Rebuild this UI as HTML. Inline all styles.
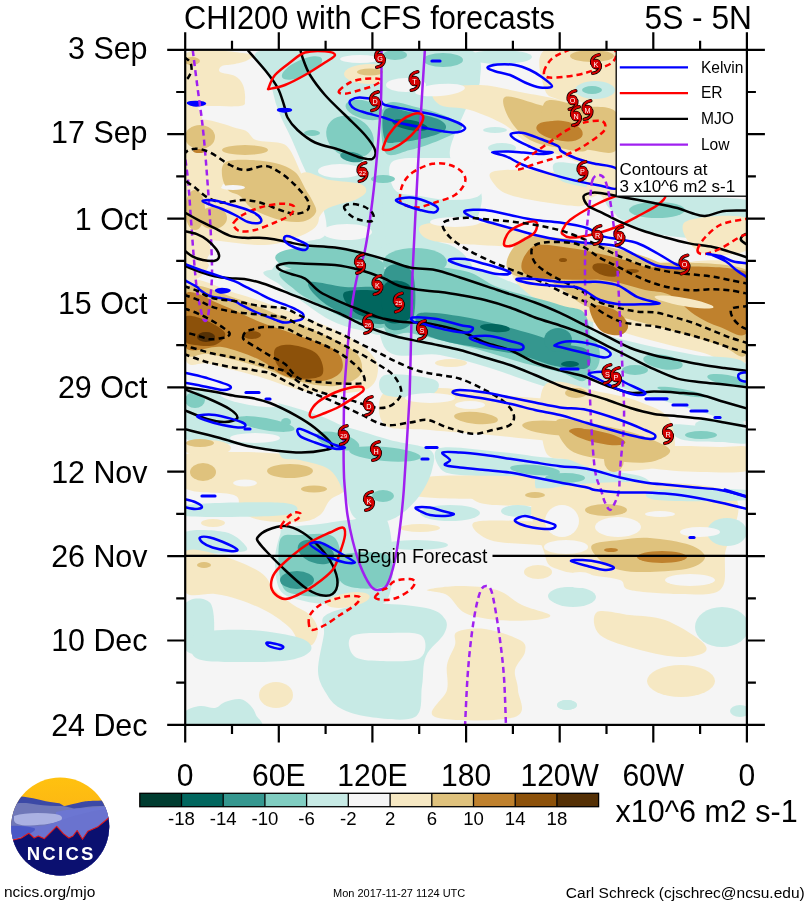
<!DOCTYPE html><html><head><meta charset="utf-8"><title>CHI200 with CFS forecasts</title><style>html,body{margin:0;padding:0;background:#fff;}svg{display:block;}text{font-family:"Liberation Sans",Arial,Helvetica,sans-serif;}</style></head><body>
<svg width="809" height="907" viewBox="0 0 809 907">
<defs><clipPath id="pc"><rect x="185.2" y="49.8" width="561.7" height="675.1"/></clipPath>
<linearGradient id="sun" x1="0" y1="0" x2="0" y2="1"><stop offset="0" stop-color="#ffc20f"/><stop offset="0.3" stop-color="#fdb813"/><stop offset="1" stop-color="#f2a000"/></linearGradient>
<clipPath id="lc"><circle cx="60.2" cy="826.5" r="49"/></clipPath></defs>
<g clip-path="url(#pc)">
<rect x="185.2" y="49.8" width="561.7" height="675.1" fill="#f5f5f5"/>
<path d="M185,54 C195.8,45 239.5,53 250,54 C260.5,55 250.5,58.3 248,60 C245.5,61.7 239.3,63 235,64 C230.7,65 224.5,64.7 222,66 C219.5,67.3 217.8,70.3 220,72 C222.2,73.7 231.2,73.8 235,76 C238.8,78.2 241.3,81 243,85 C244.7,89 245.5,96.5 245,100 C244.5,103.5 246.7,105 240,106 C233.3,107 214.2,105.7 205,106 C195.8,106.3 188.3,116.7 185,108 C181.7,99.3 174.2,63 185,54Z" fill="#f6e8c3"/>
<ellipse cx="192" cy="118" rx="10" ry="12" fill="#f6e8c3"/>
<path d="M185,128 C194.2,109.5 228.2,127 240,129 C251.8,131 249.3,137.7 256,140 C262.7,142.3 274.3,141.3 280,143 C285.7,144.7 286.3,144.7 290,150 C293.7,155.3 297.8,166.7 302,175 C306.2,183.3 312.5,191.7 315,200 C317.5,208.3 321.2,218.3 317,225 C312.8,231.7 299.5,236.7 290,240 C280.5,243.3 273.3,245 260,245 C246.7,245 222.5,240.8 210,240 C197.5,239.2 189.2,258.7 185,240 C180.8,221.3 175.8,146.5 185,128Z" fill="#f6e8c3"/>
<path d="M185,240 C188.7,233.8 202.8,236.3 207,240 C211.2,243.7 211.2,255.8 210,262 C208.8,268.2 204.2,274.5 200,277 C195.8,279.5 187.5,283.2 185,277 C182.5,270.8 181.3,246.2 185,240Z" fill="#f6e8c3"/>
<path d="M262,50 C281.5,45 366.2,12.2 387,50 C407.8,87.8 405.7,239.2 387,277 C368.3,314.8 289.5,282.3 275,277 C260.5,271.7 291.7,252 300,245 C308.3,238 321.3,241.7 325,235 C328.7,228.3 325.3,215.8 322,205 C318.7,194.2 310,180.8 305,170 C300,159.2 296.5,150 292,140 C287.5,130 281.7,120 278,110 C274.3,100 272.7,90 270,80 C267.3,70 242.5,55 262,50Z" fill="#c7eae5"/>
<path d="M300,175 C305,167 320,178.5 330,180 C340,181.5 354,182 360,184 C366,186 366.8,189.3 366,192 C365.2,194.7 359.3,198 355,200 C350.7,202 345,202.3 340,204 C335,205.7 329.2,207 325,210 C320.8,213 319.2,219 315,222 C310.8,225 302.5,235.8 300,228 C297.5,220.2 295,183 300,175Z" fill="#f6e8c3"/>
<ellipse cx="370" cy="74" rx="26" ry="10" fill="#f6e8c3"/>
<path d="M387,50 C400.8,17.5 454.5,45 470,50 C485.5,55 480,71.7 480,80 C480,88.3 475,88.3 470,100 C465,111.7 451.7,138.3 450,150 C448.3,161.7 455,163.3 460,170 C465,176.7 476.7,183.3 480,190 C483.3,196.7 481.7,203.3 480,210 C478.3,216.7 475,225 470,230 C465,235 458.3,237.5 450,240 C441.7,242.5 430.5,244.2 420,245 C409.5,245.8 392.5,277.5 387,245 C381.5,212.5 373.2,82.5 387,50Z" fill="#c7eae5"/>
<ellipse cx="500" cy="57" rx="32" ry="7" fill="#c7eae5"/>
<path d="M435,90 C441.7,86.7 465.8,84.7 480,85 C494.2,85.3 506.7,89.5 520,92 C533.3,94.5 548.8,97 560,100 C571.2,103 582.5,100 587,110 C591.5,120 591.5,152.5 587,160 C582.5,167.5 569.5,157.5 560,155 C550.5,152.5 539.2,150 530,145 C520.8,140 515,130.8 505,125 C495,119.2 480.8,113.3 470,110 C459.2,106.7 445.8,108.3 440,105 C434.2,101.7 428.3,93.3 435,90Z" fill="#f6e8c3"/>
<path d="M492,172 C497.8,169.5 517,169.5 530,170 C543,170.5 560.5,172.5 570,175 C579.5,177.5 584.5,180 587,185 C589.5,190 591.2,202 585,205 C578.8,208 562.5,204.7 550,203 C537.5,201.3 519.2,198 510,195 C500.8,192 498,188.8 495,185 C492,181.2 486.2,174.5 492,172Z" fill="#f6e8c3"/>
<ellipse cx="441" cy="181" rx="16" ry="4" fill="#f6e8c3"/>
<path d="M555,163 C560,160.7 579.8,164.8 590,166 C600.2,167.2 611.7,165.7 616,170 C620.3,174.3 620.3,189 616,192 C611.7,195 599.3,190 590,188 C580.7,186 565.8,184.2 560,180 C554.2,175.8 550,165.3 555,163Z" fill="#c7eae5"/>
<ellipse cx="495" cy="130" rx="12" ry="3" fill="#c7eae5"/>
<ellipse cx="502" cy="148" rx="14" ry="5" fill="#c7eae5"/>
<path d="M422,225 C428.7,222 453.7,221.2 470,222 C486.3,222.8 510.8,226.2 520,230 C529.2,233.8 531.7,242.5 525,245 C518.3,247.5 495.8,245.8 480,245 C464.2,244.2 439.7,243.3 430,240 C420.3,236.7 415.3,228 422,225Z" fill="#f6e8c3"/>
<path d="M385,245 C395.8,239.7 435.8,239.7 450,245 C464.2,250.3 480.8,271.7 470,277 C459.2,282.3 399.2,282.3 385,277 C370.8,271.7 374.2,250.3 385,245Z" fill="#c7eae5"/>
<path d="M545,50 C556.8,43.3 604.2,25 616,50 C627.8,75 618.7,175.8 616,200 C613.3,224.2 604.8,196.7 600,195 C595.2,193.3 589.2,204.2 587,190 C584.8,175.8 591.5,125 587,110 C582.5,95 567,103.3 560,100 C553,96.7 547.5,98.3 545,90 C542.5,81.7 533.2,56.7 545,50Z" fill="#f6e8c3"/>
<ellipse cx="595" cy="90" rx="20" ry="9" fill="#c7eae5"/>
<path d="M616,197 C637.8,194.5 725.2,195.8 747,200 C768.8,204.2 754.8,217.8 747,222 C739.2,226.2 714.5,224.5 700,225 C685.5,225.5 671.7,225.5 660,225 C648.3,224.5 637.3,223.7 630,222 C622.7,220.3 618.3,219.2 616,215 C613.7,210.8 594.2,199.5 616,197Z" fill="#c7eae5"/>
<ellipse cx="670" cy="228" rx="45" ry="8" fill="#c7eae5" transform="rotate(8 670 228)"/>
<path d="M685,222 C692.8,216.3 736.7,213.3 747,218 C757.3,222.7 754.8,244.3 747,250 C739.2,255.7 710.3,256.7 700,252 C689.7,247.3 677.2,227.7 685,222Z" fill="#f6e8c3"/>
<path d="M690,262 C699.5,259.5 737.5,259.5 747,262 C756.5,264.5 756.5,274.5 747,277 C737.5,279.5 699.5,279.5 690,277 C680.5,274.5 680.5,264.5 690,262Z" fill="#f6e8c3"/>
<path d="M270,270 C287.8,267.5 367.5,260 387,270 C406.5,280 391.5,320 387,330 C382.5,340 369.5,331.7 360,330 C350.5,328.3 340,325 330,320 C320,315 308.3,305.8 300,300 C291.7,294.2 285,290 280,285 C275,280 252.2,272.5 270,270Z" fill="#c7eae5"/>
<path d="M185,283 C193.3,272.2 218.3,288.5 235,293 C251.7,297.5 268.3,303.8 285,310 C301.7,316.2 321.7,323.7 335,330 C348.3,336.3 357.8,341.7 365,348 C372.2,354.3 378,361 378,368 C378,375 376.3,386 365,390 C353.7,394 327.5,394.2 310,392 C292.5,389.8 276.7,381.7 260,377 C243.3,372.3 222.5,367.2 210,364 C197.5,360.8 189.2,371.5 185,358 C180.8,344.5 176.7,293.8 185,283Z" fill="#f6e8c3"/>
<path d="M185,392 C194.2,384.8 223.3,392.8 240,395 C256.7,397.2 270,400.8 285,405 C300,409.2 317.2,414.2 330,420 C342.8,425.8 356.7,434.2 362,440 C367.3,445.8 372.3,452.5 362,455 C351.7,457.5 320.3,456.7 300,455 C279.7,453.3 259.2,447.8 240,445 C220.8,442.2 194.2,446.8 185,438 C175.8,429.2 175.8,399.2 185,392Z" fill="#c7eae5"/>
<path d="M185,455 C194.2,449 220.8,452 240,452 C259.2,452 283.3,454 300,455 C316.7,456 331.7,455.5 340,458 C348.3,460.5 349.2,464.7 350,470 C350.8,475.3 348.3,485 345,490 C341.7,495 334.2,495.8 330,500 C325.8,504.2 325,511.3 320,515 C315,518.7 310,521.2 300,522 C290,522.8 270,522 260,520 C250,518 244.3,514.2 240,510 C235.7,505.8 243.2,498.7 234,495 C224.8,491.3 193.2,494.7 185,488 C176.8,481.3 175.8,461 185,455Z" fill="#f6e8c3"/>
<ellipse cx="207" cy="448" rx="24" ry="8" fill="#f6e8c3"/>
<path d="M385,268 C399.2,254.7 447.5,265.2 470,268 C492.5,270.8 500.5,279.7 520,285 C539.5,290.3 575.8,281.7 587,300 C598.2,318.3 594.8,380.8 587,395 C579.2,409.2 556.2,389.5 540,385 C523.8,380.5 506.7,373 490,368 C473.3,363 457.5,358.3 440,355 C422.5,351.7 394.2,362.5 385,348 C375.8,333.5 370.8,281.3 385,268Z" fill="#c7eae5"/>
<path d="M515,270 C524.5,265.5 575,261 587,268 C599,275 591.5,305.8 587,312 C582.5,318.2 569.5,307.8 560,305 C550.5,302.2 537.5,300.8 530,295 C522.5,289.2 505.5,274.5 515,270Z" fill="#f6e8c3"/>
<ellipse cx="451" cy="363" rx="16" ry="4" fill="#f6e8c3"/>
<path d="M385,392 C394.2,385.8 420.8,387.5 440,388 C459.2,388.5 480,393 500,395 C520,397 545.5,398.3 560,400 C574.5,401.7 582.5,398 587,405 C591.5,412 594.8,436.2 587,442 C579.2,447.8 556.2,441.2 540,440 C523.8,438.8 508.3,436.7 490,435 C471.7,433.3 447.5,431.7 430,430 C412.5,428.3 392.5,431.3 385,425 C377.5,418.7 375.8,398.2 385,392Z" fill="#f6e8c3"/>
<path d="M385,375 C393.3,372.5 427.5,376.7 435,380 C442.5,383.3 438.3,392.5 430,395 C421.7,397.5 392.5,398.3 385,395 C377.5,391.7 376.7,377.5 385,375Z" fill="#c7eae5"/>
<path d="M440,448 C450,445.3 483.3,450.5 500,452 C516.7,453.5 525.5,455.3 540,457 C554.5,458.7 579.2,458.5 587,462 C594.8,465.5 598.2,475.5 587,478 C575.8,480.5 541.2,477.5 520,477 C498.8,476.5 473.3,476.5 460,475 C446.7,473.5 443.3,472.5 440,468 C436.7,463.5 430,450.7 440,448Z" fill="#c7eae5"/>
<path d="M422,478 C435,474.5 472.5,475.7 500,476 C527.5,476.3 572.5,476.5 587,480 C601.5,483.5 614.5,494.2 587,497 C559.5,499.8 449.5,500.2 422,497 C394.5,493.8 409,481.5 422,478Z" fill="#f6e8c3"/>
<path d="M545,270 C578.7,264.2 713.3,255 747,270 C780.7,285 754.8,346.3 747,360 C739.2,373.7 716.2,355.3 700,352 C683.8,348.7 666.7,344.5 650,340 C633.3,335.5 613.3,329.7 600,325 C586.7,320.3 579.2,315.3 570,312 C560.8,308.7 549.2,312 545,305 C540.8,298 511.3,275.8 545,270Z" fill="#f6e8c3"/>
<path d="M545,315 C553.3,308.7 578.3,327 595,332 C611.7,337 628.3,341.2 645,345 C661.7,348.8 678,351.7 695,355 C712,358.3 738.3,354.2 747,365 C755.7,375.8 755.7,412.5 747,420 C738.3,427.5 712,414.2 695,410 C678,405.8 661.7,400 645,395 C628.3,390 611.7,384.2 595,380 C578.3,375.8 553.3,380.8 545,370 C536.7,359.2 536.7,321.3 545,315Z" fill="#c7eae5"/>
<path d="M672,425 C676.2,423.3 690.3,425.5 700,426 C709.7,426.5 721.7,427.3 730,428 C738.3,428.7 746.7,427.5 750,430 C753.3,432.5 755,441 750,443 C745,445 730,442.3 720,442 C710,441.7 697.5,442 690,441 C682.5,440 678,438.7 675,436 C672,433.3 667.8,426.7 672,425Z" fill="#c7eae5"/>
<path d="M632,447 C640.3,444.7 665.3,446 680,446 C694.7,446 708.3,446.7 720,447 C731.7,447.3 745,444.2 750,448 C755,451.8 758.3,466 750,470 C741.7,474 716.7,472.3 700,472 C683.3,471.7 661.7,470 650,468 C638.3,466 633,463.5 630,460 C627,456.5 623.7,449.3 632,447Z" fill="#f6e8c3"/>
<path d="M545,385 C554.2,375.3 584.2,389.2 600,392 C615.8,394.8 628.3,397.3 640,402 C651.7,406.7 664.7,410.3 670,420 C675.3,429.7 677,451.7 672,460 C667,468.3 652,468.3 640,470 C628,471.7 611.7,471.7 600,470 C588.3,468.3 579.2,463.3 570,460 C560.8,456.7 549.2,462.5 545,450 C540.8,437.5 535.8,394.7 545,385Z" fill="#f6e8c3"/>
<path d="M545,463 C554.2,458.5 583.3,467.5 600,470 C616.7,472.5 637.2,473.5 645,478 C652.8,482.5 663.7,493.8 647,497 C630.3,500.2 562,502.7 545,497 C528,491.3 535.8,467.5 545,463Z" fill="#c7eae5"/>
<ellipse cx="720" cy="425" rx="25" ry="7" fill="#c7eae5"/>
<ellipse cx="213" cy="523" rx="12" ry="4" fill="#f6e8c3"/>
<path d="M185,505 C201.7,502.8 268.3,501.3 285,503 C301.7,504.7 301.7,512.8 285,515 C268.3,517.2 201.7,517.7 185,516 C168.3,514.3 168.3,507.2 185,505Z" fill="#c7eae5"/>
<path d="M185,532 C191.7,528.7 215,529.8 225,532 C235,534.2 242.5,541.7 245,545 C247.5,548.3 250,550.8 240,552 C230,553.2 194.2,555.3 185,552 C175.8,548.7 178.3,535.3 185,532Z" fill="#c7eae5"/>
<path d="M285,528 C291.7,526.2 309.2,525.3 320,524 C330.8,522.7 338.8,520.7 350,520 C361.2,519.3 380.8,506.7 387,520 C393.2,533.3 396.5,586 387,600 C377.5,614 344.5,604 330,604 C315.5,604 308.3,602.3 300,600 C291.7,597.7 284.2,596.7 280,590 C275.8,583.3 275,569.2 275,560 C275,550.8 278.3,540.3 280,535 C281.7,529.7 278.3,529.8 285,528Z" fill="#c7eae5"/>
<path d="M185,552 C191.2,546 209.5,552.7 222,556 C234.5,559.3 251.2,566.3 260,572 C268.8,577.7 269.7,584.7 275,590 C280.3,595.3 286.2,599.8 292,604 C297.8,608.2 305.7,610.7 310,615 C314.3,619.3 317.7,625 318,630 C318.3,635 315,642.8 312,645 C309,647.2 303.7,645.8 300,643 C296.3,640.2 295.3,633.2 290,628 C284.7,622.8 276.3,616.7 268,612 C259.7,607.3 248.8,603 240,600 C231.2,597 224.2,595.3 215,594 C205.8,592.7 190,599 185,592 C180,585 178.8,558 185,552Z" fill="#f6e8c3"/>
<ellipse cx="348" cy="600" rx="22" ry="7" fill="#f6e8c3" transform="rotate(-10 348 600)"/>
<path d="M185,604 C189.3,596.5 206.7,596.5 211,604 C215.3,611.5 215.3,641.5 211,649 C206.7,656.5 189.3,656.5 185,649 C180.7,641.5 180.7,611.5 185,604Z" fill="#c7eae5"/>
<path d="M196,634 C205,629.3 232.7,629.3 250,630 C267.3,630.7 289.8,634.7 300,638 C310.2,641.3 312.7,646.3 311,650 C309.3,653.7 301.8,658 290,660 C278.2,662 255.7,662.3 240,662 C224.3,661.7 203.3,662.7 196,658 C188.7,653.3 187,638.7 196,634Z" fill="#c7eae5"/>
<path d="M326,615 C333.7,610 353.3,605.2 370,604 C386.7,602.8 413.5,605.5 426,608 C438.5,610.5 442,614.7 445,619 C448,623.3 447.2,627.8 444,634 C440.8,640.2 429.7,647.3 426,656 C422.3,664.7 423.8,675.8 422,686 C420.2,696.2 423.7,711.8 415,717 C406.3,722.2 382.5,718.5 370,717 C357.5,715.5 347.3,712 340,708 C332.7,704 329.7,699.2 326,693 C322.3,686.8 318.3,680.8 318,671 C317.7,661.2 322.7,643.3 324,634 C325.3,624.7 318.3,620 326,615Z" fill="#c7eae5"/>
<ellipse cx="276" cy="695" rx="17" ry="13" fill="#f6e8c3"/>
<path d="M185,712 C187.5,708.5 195,706.7 200,706 C205,705.3 210.8,708.7 215,708 C219.2,707.3 220.8,703.5 225,702 C229.2,700.5 235.8,698.5 240,699 C244.2,699.5 247.3,702.3 250,705 C252.7,707.7 254.8,711.3 256,715 C257.2,718.7 268.8,725 257,727 C245.2,729 197,729.5 185,727 C173,724.5 182.5,715.5 185,712Z" fill="#c7eae5"/>
<path d="M280,418 C286.7,412.2 308.3,418.3 320,420 C331.7,421.7 338.3,424.7 350,428 C361.7,431.3 376.7,436.3 390,440 C403.3,443.7 423,445 430,450 C437,455 433.7,462.5 432,470 C430.3,477.5 425.3,487.5 420,495 C414.7,502.5 406.7,510.5 400,515 C393.3,519.5 387.5,521.5 380,522 C372.5,522.5 360.8,522.5 355,518 C349.2,513.5 349.2,503 345,495 C340.8,487 337.5,475.8 330,470 C322.5,464.2 308.3,462.5 300,460 C291.7,457.5 283.3,462 280,455 C276.7,448 273.3,423.8 280,418Z" fill="#c7eae5"/>
<path d="M480,490 C497.8,487.8 569.2,487.5 587,490 C604.8,492.5 596.5,502.3 587,505 C577.5,507.7 547.8,506.3 530,506 C512.2,505.7 488.3,505.7 480,503 C471.7,500.3 462.2,492.2 480,490Z" fill="#f6e8c3"/>
<path d="M475,522 C483.3,519 521.3,521 540,522 C558.7,523 579.2,523.7 587,528 C594.8,532.3 594.8,545.2 587,548 C579.2,550.8 556.2,546.3 540,545 C523.8,543.7 500.8,543.8 490,540 C479.2,536.2 466.7,525 475,522Z" fill="#f6e8c3"/>
<ellipse cx="538" cy="572" rx="14" ry="7" fill="#f6e8c3"/>
<ellipse cx="420" cy="528" rx="20" ry="4" fill="#f6e8c3"/>
<ellipse cx="450" cy="513" rx="30" ry="8" fill="#c7eae5"/>
<ellipse cx="518" cy="511" rx="17" ry="6" fill="#c7eae5"/>
<ellipse cx="416" cy="545" rx="32" ry="5" fill="#c7eae5"/>
<ellipse cx="568" cy="596" rx="20" ry="9" fill="#c7eae5"/>
<path d="M427,590 C429.2,588.5 448.3,586 460,586 C471.7,586 486.7,586.8 497,590 C507.3,593.2 513.2,600.8 522,605 C530.8,609.2 547.8,612.5 550,615 C552.2,617.5 543.8,619.2 535,620 C526.2,620.8 508.7,621.2 497,620 C485.3,618.8 473.3,617.2 465,613 C456.7,608.8 453.3,598.8 447,595 C440.7,591.2 424.8,591.5 427,590Z" fill="#f6e8c3"/>
<path d="M457,632 C462,629.3 474.5,627.7 485,629 C495.5,630.3 513.3,636.2 520,640 C526.7,643.8 525.8,647 525,652 C524.2,657 516.2,663.7 515,670 C513.8,676.3 518,682.2 518,690 C518,697.8 528.8,712.5 515,717 C501.2,721.5 446.3,721.5 435,717 C423.7,712.5 445,698.7 447,690 C449,681.3 445.7,672.5 447,665 C448.3,657.5 453.3,650.5 455,645 C456.7,639.5 452,634.7 457,632Z" fill="#f6e8c3"/>
<ellipse cx="567" cy="705" rx="10" ry="5" fill="#c7eae5"/>
<path d="M545,490 C575,479.2 695,479.2 725,490 C755,500.8 725.8,538.3 725,555 C724.2,571.7 727.5,583.5 720,590 C712.5,596.5 695,594 680,594 C665,594 640,592.3 630,590 C620,587.7 626.7,582.5 620,580 C613.3,577.5 600,576.7 590,575 C580,573.3 567.5,573.3 560,570 C552.5,566.7 547.5,568.3 545,555 C542.5,541.7 515,500.8 545,490Z" fill="#f6e8c3"/>
<path d="M597,612 C602,608.7 618.7,613.7 630,615 C641.3,616.3 653.3,615.8 665,620 C676.7,624.2 693.3,634.7 700,640 C706.7,645.3 708.3,649.2 705,652 C701.7,654.8 690.8,657.3 680,657 C669.2,656.7 653.3,653.7 640,650 C626.7,646.3 607.2,641.3 600,635 C592.8,628.7 592,615.3 597,612Z" fill="#f6e8c3"/>
<ellipse cx="681" cy="681" rx="34" ry="16" fill="#f6e8c3"/>
<path d="M657,490 C672,488.3 732,488.3 747,490 C762,491.7 762,498.3 747,500 C732,501.7 672,501.7 657,500 C642,498.3 642,491.7 657,490Z" fill="#c7eae5"/>
<ellipse cx="727" cy="532" rx="20" ry="14" fill="#c7eae5"/>
<ellipse cx="573" cy="597" rx="23" ry="10" fill="#c7eae5"/>
<ellipse cx="722" cy="627" rx="27" ry="20" fill="#c7eae5"/>
<ellipse cx="567" cy="705" rx="10" ry="5" fill="#c7eae5"/>
<ellipse cx="740" cy="711" rx="10" ry="6" fill="#c7eae5"/>
<ellipse cx="232" cy="186" rx="10" ry="4" fill="#f5f5f5"/>
<ellipse cx="237" cy="260" rx="30" ry="14" fill="#f5f5f5"/>
<ellipse cx="340" cy="171" rx="22" ry="7" fill="#f5f5f5"/>
<ellipse cx="347" cy="232" rx="25" ry="8" fill="#f5f5f5"/>
<ellipse cx="360" cy="59" rx="20" ry="4" fill="#f5f5f5"/>
<ellipse cx="406" cy="85" rx="20" ry="7" fill="#f5f5f5"/>
<ellipse cx="440" cy="90" rx="25" ry="6" fill="#f5f5f5" transform="rotate(-5 440 90)"/>
<path d="M392,162 C397.8,156.7 417,158.3 430,158 C443,157.7 460.8,158 470,160 C479.2,162 483.3,164.2 485,170 C486.7,175.8 485.8,190 480,195 C474.2,200 460,199.8 450,200 C440,200.2 429.2,197.7 420,196 C410.8,194.3 399.7,195.7 395,190 C390.3,184.3 386.2,167.3 392,162Z" fill="#f5f5f5"/>
<ellipse cx="455" cy="222" rx="25" ry="5" fill="#f5f5f5"/>
<ellipse cx="250" cy="400" rx="30" ry="5" fill="#f5f5f5" transform="rotate(10 250 400)"/>
<ellipse cx="255" cy="438" rx="25" ry="5" fill="#f5f5f5"/>
<ellipse cx="245" cy="483" rx="12" ry="3.5" fill="#f5f5f5"/>
<ellipse cx="430" cy="398" rx="25" ry="5" fill="#f5f5f5"/>
<ellipse cx="470" cy="405" rx="15" ry="4" fill="#f5f5f5"/>
<path d="M352,636 C358,632.2 378.3,633 390,633 C401.7,633 417,631.8 422,636 C427,640.2 427,653.8 420,658 C413,662.2 391,661.3 380,661 C369,660.7 358.7,660.2 354,656 C349.3,651.8 346,639.8 352,636Z" fill="#f5f5f5"/>
<ellipse cx="562" cy="521" rx="17" ry="16" fill="#f5f5f5"/>
<ellipse cx="618" cy="527" rx="23" ry="10" fill="#f5f5f5"/>
<ellipse cx="660" cy="514" rx="15" ry="3" fill="#f5f5f5"/>
<ellipse cx="566" cy="547" rx="22" ry="7" fill="#f5f5f5"/>
<ellipse cx="700" cy="532" rx="20" ry="5" fill="#f5f5f5"/>
<ellipse cx="580" cy="580" rx="15" ry="8" fill="#f5f5f5"/>
<ellipse cx="690" cy="580" rx="25" ry="6" fill="#f5f5f5"/>
<ellipse cx="383" cy="179" rx="12" ry="4" fill="#80cdc1"/>
<ellipse cx="370" cy="72" rx="13" ry="3.5" fill="#dfc27d"/>
<ellipse cx="200" cy="137" rx="15" ry="12" fill="#dfc27d"/>
<ellipse cx="245" cy="150" rx="23" ry="5" fill="#dfc27d"/>
<path d="M226,162 C230.7,159.5 241.8,159.8 250,160 C258.2,160.2 267.5,161 275,163 C282.5,165 289.8,167.5 295,172 C300.2,176.5 303.2,185.3 306,190 C308.8,194.7 310.3,196.3 312,200 C313.7,203.7 317.2,208.5 316,212 C314.8,215.5 310.2,219.5 305,221 C299.8,222.5 291.7,222 285,221 C278.3,220 270.8,217.3 265,215 C259.2,212.7 254.2,210.2 250,207 C245.8,203.8 243.7,198.8 240,196 C236.3,193.2 231,193.5 228,190 C225,186.5 222.3,179.7 222,175 C221.7,170.3 221.3,164.5 226,162Z" fill="#dfc27d"/>
<ellipse cx="213" cy="218" rx="14" ry="11" fill="#dfc27d"/>
<ellipse cx="195" cy="210" rx="10" ry="20" fill="#dfc27d"/>
<ellipse cx="192" cy="61" rx="8" ry="4" fill="#dfc27d"/>
<ellipse cx="302" cy="68" rx="22" ry="8" fill="#80cdc1" transform="rotate(-25 302 68)"/>
<ellipse cx="350" cy="137" rx="25" ry="20" fill="#80cdc1" transform="rotate(30 350 137)"/>
<ellipse cx="365" cy="110" rx="20" ry="9" fill="#80cdc1" transform="rotate(15 365 110)"/>
<ellipse cx="312" cy="133" rx="8" ry="3" fill="#80cdc1"/>
<ellipse cx="330" cy="262" rx="55" ry="14" fill="#80cdc1" transform="rotate(5 330 262)"/>
<ellipse cx="443" cy="60" rx="20" ry="7" fill="#80cdc1"/>
<ellipse cx="395" cy="55" rx="12" ry="5" fill="#80cdc1"/>
<path d="M385,105 C390.8,97.7 409.2,105.8 420,108 C430.8,110.2 443,114.7 450,118 C457,121.3 463.7,124.3 462,128 C460.3,131.7 448.7,136.3 440,140 C431.3,143.7 419.2,148 410,150 C400.8,152 389.2,159.5 385,152 C380.8,144.5 379.2,112.3 385,105Z" fill="#80cdc1"/>
<path d="M505,97 C510,94.5 528.3,102 540,105 C551.7,108 567.2,111.7 575,115 C582.8,118.3 585,119.2 587,125 C589,130.8 591.5,146.2 587,150 C582.5,153.8 569.5,149.7 560,148 C550.5,146.3 538.3,144.7 530,140 C521.7,135.3 514.2,127.2 510,120 C505.8,112.8 500,99.5 505,97Z" fill="#dfc27d"/>
<ellipse cx="415" cy="262" rx="32" ry="14" fill="#80cdc1"/>
<ellipse cx="592" cy="56" rx="22" ry="6" fill="#dfc27d"/>
<ellipse cx="592" cy="90" rx="10" ry="4" fill="#80cdc1"/>
<path d="M545,102 C550.8,96.3 568.2,104.3 580,106 C591.8,107.7 610,104.7 616,112 C622,119.3 620.3,143.7 616,150 C611.7,156.3 599.3,150.8 590,150 C580.7,149.2 567.5,146.7 560,145 C552.5,143.3 547.5,147.2 545,140 C542.5,132.8 539.2,107.7 545,102Z" fill="#dfc27d"/>
<ellipse cx="657" cy="210" rx="28" ry="8" fill="#80cdc1"/>
<path d="M520,240 C526.7,233.5 546.7,237.2 560,238 C573.3,238.8 586.7,242.2 600,245 C613.3,247.8 628.3,251.2 640,255 C651.7,258.8 663.3,264.3 670,268 C676.7,271.7 705,275.5 680,277 C655,278.5 546.7,283.2 520,277 C493.3,270.8 513.3,246.5 520,240Z" fill="#dfc27d"/>
<path d="M285,270 C300.3,266.7 370,260.8 387,270 C404,279.2 393.2,316.7 387,325 C380.8,333.3 361.2,323.3 350,320 C338.8,316.7 329.2,310 320,305 C310.8,300 300.8,295.8 295,290 C289.2,284.2 269.7,273.3 285,270Z" fill="#80cdc1"/>
<path d="M185,288 C193.3,279 218.3,293 235,298 C251.7,303 268.3,311 285,318 C301.7,325 322.8,333.8 335,340 C347.2,346.2 353.8,349.2 358,355 C362.2,360.8 363.8,369.8 360,375 C356.2,380.2 345.5,385 335,386 C324.5,387 309.5,384.2 297,381 C284.5,377.8 274.5,371.5 260,367 C245.5,362.5 222.5,356.5 210,354 C197.5,351.5 189.2,363 185,352 C180.8,341 176.7,297 185,288Z" fill="#dfc27d"/>
<ellipse cx="265" cy="424" rx="30" ry="6" fill="#80cdc1" transform="rotate(10 265 424)"/>
<ellipse cx="195" cy="400" rx="10" ry="8" fill="#80cdc1"/>
<ellipse cx="338" cy="441" rx="22" ry="8" fill="#80cdc1" transform="rotate(15 338 441)"/>
<ellipse cx="203" cy="472" rx="13" ry="9" fill="#dfc27d"/>
<ellipse cx="290" cy="471" rx="23" ry="7" fill="#dfc27d"/>
<ellipse cx="314" cy="489" rx="13" ry="3.5" fill="#dfc27d"/>
<ellipse cx="200" cy="443" rx="14" ry="4" fill="#dfc27d"/>
<path d="M385,270 C397.5,260 440.8,267 460,270 C479.2,273 483.3,282.2 500,288 C516.7,293.8 545.5,300 560,305 C574.5,310 582.5,305.8 587,318 C591.5,330.2 591.5,369 587,378 C582.5,387 571.2,374.7 560,372 C548.8,369.3 533.3,365.7 520,362 C506.7,358.3 493.3,353.7 480,350 C466.7,346.3 451.7,342.8 440,340 C428.3,337.2 419.2,334.7 410,333 C400.8,331.3 389.2,340.5 385,330 C380.8,319.5 372.5,280 385,270Z" fill="#80cdc1"/>
<ellipse cx="566" cy="275" rx="22" ry="6" fill="#dfc27d" transform="rotate(10 566 275)"/>
<ellipse cx="476" cy="418" rx="22" ry="6" fill="#dfc27d" transform="rotate(5 476 418)"/>
<ellipse cx="555" cy="428" rx="33" ry="7" fill="#dfc27d" transform="rotate(5 555 428)"/>
<ellipse cx="576" cy="393" rx="11" ry="5" fill="#dfc27d"/>
<ellipse cx="535" cy="470" rx="25" ry="5" fill="#80cdc1" transform="rotate(5 535 470)"/>
<path d="M560,270 C589.5,265.8 715.8,256.3 747,270 C778.2,283.7 751.5,339.5 747,352 C742.5,364.5 732.8,348.7 720,345 C707.2,341.3 684.7,334.2 670,330 C655.3,325.8 644.5,323.3 632,320 C619.5,316.7 605.3,314.2 595,310 C584.7,305.8 575.8,301.7 570,295 C564.2,288.3 530.5,274.2 560,270Z" fill="#dfc27d"/>
<ellipse cx="684" cy="303" rx="42" ry="9" fill="#dfc27d" transform="rotate(10 684 303)"/>
<path d="M545,320 C550,313.3 566.2,320.8 575,325 C583.8,329.2 594.7,337.5 598,345 C601.3,352.5 600.5,366.2 595,370 C589.5,373.8 573.3,368.8 565,368 C556.7,367.2 548.3,373 545,365 C541.7,357 540,326.7 545,320Z" fill="#80cdc1"/>
<ellipse cx="663" cy="362" rx="20" ry="7" fill="#80cdc1" transform="rotate(10 663 362)"/>
<ellipse cx="635" cy="370" rx="13" ry="5" fill="#80cdc1"/>
<ellipse cx="727" cy="380" rx="20" ry="5" fill="#80cdc1" transform="rotate(10 727 380)"/>
<ellipse cx="682" cy="392" rx="25" ry="3" fill="#80cdc1" transform="rotate(10 682 392)"/>
<ellipse cx="701" cy="435" rx="16" ry="4" fill="#80cdc1"/>
<path d="M557,420 C562,415.8 586.2,422.5 600,425 C613.8,427.5 628.3,430.8 640,435 C651.7,439.2 668.3,445.5 670,450 C671.7,454.5 660,460.3 650,462 C640,463.7 623.3,462 610,460 C596.7,458 578.8,456.7 570,450 C561.2,443.3 552,424.2 557,420Z" fill="#dfc27d"/>
<ellipse cx="614" cy="460" rx="10" ry="12" fill="#dfc27d"/>
<ellipse cx="565" cy="478" rx="20" ry="5" fill="#80cdc1"/>
<path d="M280,540 C283,531.7 291.7,535.8 300,535 C308.3,534.2 323.3,532.5 330,535 C336.7,537.5 338.3,542.5 340,550 C341.7,557.5 341.7,572.5 340,580 C338.3,587.5 336.7,592.5 330,595 C323.3,597.5 308,596.7 300,595 C292,593.3 285.3,594.2 282,585 C278.7,575.8 277,548.3 280,540Z" fill="#80cdc1"/>
<path d="M335,557 C342,552 378.3,550.3 387,555 C395.7,559.7 394,580 387,585 C380,590 353.7,589.7 345,585 C336.3,580.3 328,562 335,557Z" fill="#80cdc1"/>
<ellipse cx="204" cy="565" rx="7" ry="3" fill="#dfc27d"/>
<ellipse cx="385" cy="454" rx="36" ry="7" fill="#80cdc1" transform="rotate(5 385 454)"/>
<ellipse cx="383" cy="496" rx="11" ry="6" fill="#80cdc1"/>
<ellipse cx="286" cy="422" rx="5" ry="4" fill="#80cdc1"/>
<ellipse cx="535" cy="495" rx="10" ry="3" fill="#dfc27d"/>
<ellipse cx="606" cy="510" rx="21" ry="6" fill="#dfc27d"/>
<path d="M592,545 C595.3,541.7 610.3,541.2 620,540 C629.7,538.8 638.3,537.2 650,538 C661.7,538.8 680.8,541.8 690,545 C699.2,548.2 705,553.2 705,557 C705,560.8 699.2,565.5 690,568 C680.8,570.5 661.7,571.7 650,572 C638.3,572.3 628.3,572 620,570 C611.7,568 604.7,564.2 600,560 C595.3,555.8 588.7,548.3 592,545Z" fill="#dfc27d"/>
<ellipse cx="199" cy="151" rx="6" ry="2" fill="#bf812d"/>
<ellipse cx="352" cy="157" rx="12" ry="5" fill="#35978f" transform="rotate(10 352 157)"/>
<path d="M385,110 C389.2,105.3 400.8,110.3 410,112 C419.2,113.7 434.2,117 440,120 C445.8,123 447.5,127 445,130 C442.5,133 432.5,136 425,138 C417.5,140 406.7,141.7 400,142 C393.3,142.3 387.5,145.3 385,140 C382.5,134.7 380.8,114.7 385,110Z" fill="#35978f"/>
<ellipse cx="558" cy="131" rx="22" ry="9" fill="#bf812d" transform="rotate(10 558 131)"/>
<ellipse cx="563" cy="131" rx="20" ry="10" fill="#bf812d" transform="rotate(10 563 131)"/>
<path d="M532,247 C538.3,242.2 557.8,246.7 570,248 C582.2,249.3 593.3,252.2 605,255 C616.7,257.8 631.7,261.3 640,265 C648.3,268.7 673,275 655,277 C637,279 552.5,282 532,277 C511.5,272 525.7,251.8 532,247Z" fill="#bf812d"/>
<path d="M310,282 C315,280.7 332.2,285.7 345,287 C357.8,288.3 380,284.2 387,290 C394,295.8 391.5,317 387,322 C382.5,327 368.7,322 360,320 C351.3,318 342.5,314.2 335,310 C327.5,305.8 319.2,299.7 315,295 C310.8,290.3 305,283.3 310,282Z" fill="#35978f"/>
<path d="M185,294 C191.2,287 209.5,300.3 222,305 C234.5,309.7 247.5,317 260,322 C272.5,327 284.5,330.3 297,335 C309.5,339.7 327.5,344.2 335,350 C342.5,355.8 344.2,364.8 342,370 C339.8,375.2 331.5,380 322,381 C312.5,382 295.3,379.5 285,376 C274.7,372.5 270.5,364.8 260,360 C249.5,355.2 234.5,349.2 222,347 C209.5,344.8 191.2,355.8 185,347 C178.8,338.2 178.8,301 185,294Z" fill="#bf812d"/>
<path d="M385,270 C389.5,261.2 407.5,263.3 412,272 C416.5,280.7 416.5,313.2 412,322 C407.5,330.8 389.5,333.7 385,325 C380.5,316.3 380.5,278.8 385,270Z" fill="#35978f"/>
<path d="M420,313 C428.3,311 452.5,314.8 470,318 C487.5,321.2 510,327.8 525,332 C540,336.2 549.7,340 560,343 C570.3,346 582.5,345.8 587,350 C591.5,354.2 592.3,365.3 587,368 C581.7,370.7 566.2,368.2 555,366 C543.8,363.8 532.5,358 520,355 C507.5,352 493.3,350.5 480,348 C466.7,345.5 450,343 440,340 C430,337 423.3,334.5 420,330 C416.7,325.5 411.7,315 420,313Z" fill="#35978f"/>
<ellipse cx="580" cy="272" rx="8" ry="3" fill="#bf812d"/>
<ellipse cx="578" cy="431" rx="9" ry="3" fill="#bf812d"/>
<path d="M595,270 C620.3,269 721.7,261.7 747,272 C772.3,282.3 751.5,322.8 747,332 C742.5,341.2 728.7,329.8 720,327 C711.3,324.2 703.3,320.3 695,315 C686.7,309.7 678.3,299.2 670,295 C661.7,290.8 653.3,292 645,290 C636.7,288 628.3,285 620,283 C611.7,281 599.2,280.2 595,278 C590.8,275.8 569.7,271 595,270Z" fill="#bf812d"/>
<path d="M590,306 C592.5,302.7 608.7,306.8 615,310 C621.3,313.2 627.2,320.8 628,325 C628.8,329.2 624.7,334.2 620,335 C615.3,335.8 605,334.8 600,330 C595,325.2 587.5,309.3 590,306Z" fill="#bf812d"/>
<ellipse cx="558" cy="340" rx="14" ry="12" fill="#35978f"/>
<ellipse cx="598" cy="437" rx="28" ry="6" fill="#bf812d" transform="rotate(12 598 437)"/>
<ellipse cx="316" cy="552" rx="19" ry="11" fill="#35978f" transform="rotate(20 316 552)"/>
<ellipse cx="297" cy="580" rx="17" ry="9" fill="#35978f"/>
<ellipse cx="662" cy="557" rx="25" ry="6" fill="#bf812d"/>
<ellipse cx="611" cy="550" rx="7" ry="2" fill="#bf812d"/>
<ellipse cx="410" cy="125" rx="18" ry="5" fill="#01665e" transform="rotate(10 410 125)"/>
<ellipse cx="606" cy="270" rx="14" ry="6" fill="#8c510a" transform="rotate(15 606 270)"/>
<ellipse cx="563" cy="260" rx="4" ry="2" fill="#8c510a"/>
<path d="M345,292 C350.8,289.2 380,289.2 387,293 C394,296.8 389.8,310.8 387,315 C384.2,319.2 375.8,318.8 370,318 C364.2,317.2 356.2,314.3 352,310 C347.8,305.7 339.2,294.8 345,292Z" fill="#01665e"/>
<path d="M185,317 C188.3,313.7 198.3,317.3 205,320 C211.7,322.7 223.3,328.8 225,333 C226.7,337.2 220,343 215,345 C210,347 200,345.8 195,345 C190,344.2 186.7,344.7 185,340 C183.3,335.3 181.7,320.3 185,317Z" fill="#8c510a"/>
<path d="M275,349 C277.3,345.5 285,344.2 292,345 C299,345.8 312,349 317,354 C322,359 325.3,371 322,375 C318.7,379 304.3,379.5 297,378 C289.7,376.5 281.7,370.8 278,366 C274.3,361.2 272.7,352.5 275,349Z" fill="#8c510a"/>
<ellipse cx="252" cy="335" rx="9" ry="4" fill="#8c510a"/>
<path d="M385,284 C389.2,278.3 405.8,280.3 410,286 C414.2,291.7 414.2,312.3 410,318 C405.8,323.7 389.2,325.7 385,320 C380.8,314.3 380.8,289.7 385,284Z" fill="#01665e"/>
<ellipse cx="495" cy="328" rx="15" ry="4" fill="#01665e" transform="rotate(5 495 328)"/>
<ellipse cx="570" cy="364" rx="9" ry="3" fill="#01665e"/>
<ellipse cx="611" cy="272" rx="9" ry="3" fill="#8c510a"/>
<ellipse cx="632" cy="271" rx="7" ry="2" fill="#8c510a"/>
<ellipse cx="206" cy="337" rx="9" ry="5" fill="#543005"/>
<ellipse cx="233" cy="187.5" rx="12" ry="2.5" fill="#f5f5f6"/>
<ellipse cx="684" cy="302" rx="30" ry="4" fill="#f6e8c4" transform="rotate(10 684 302)"/>
<path d="M247.5,50 C250.4,53.3 260,63.8 265,70 C270,76.2 274.3,81.7 277.5,87.5 C280.7,93.3 282.3,100 284,105 C285.7,110 285.2,113.3 287.5,117.5 C289.8,121.7 292.9,125.8 297.5,130 C302.1,134.2 307.9,139.2 315,142.5 C322.1,145.8 332.5,147.5 340,150 C347.5,152.5 354.6,156 360,157.5 C365.4,159 370,160 372.5,158.8 C375,157.5 376.2,154 375,150 C373.8,146 370,140.8 365,135 C360,129.2 351.7,121.7 345,115 C338.3,108.3 330.8,101.7 325,95 C319.2,88.3 313.8,81.2 310,75 C306.2,68.8 304.2,62 302.5,57.5 C300.8,53 300.4,49.6 300,48" fill="none" stroke="#000000" stroke-width="2.5" stroke-linejoin="round"/>
<path d="M268.8,87.5 C269.6,85.2 271.5,79.2 275,75 C278.5,70.8 285,66.2 290,62.5 C295,58.8 299.2,54.4 305,52.5 C310.8,50.6 320,50.8 325,51.2 C330,51.7 335,53.1 335,55 C335,56.9 330,59.2 325,62.5 C320,65.8 311.7,71.2 305,75 C298.3,78.8 290.8,82.7 285,85 C279.2,87.3 272.7,88.3 270,88.8 C267.3,89.2 267.9,89.8 268.8,87.5Z" fill="none" stroke="#ff0000" stroke-width="2.5" stroke-linejoin="round"/>
<path d="M338.8,91.2 C339.6,89.4 345.6,84.6 350,82.5 C354.4,80.4 359.8,79.2 365,78.8 C370.2,78.2 379.3,78.5 381,79.5 C382.7,80.5 378.5,83.2 375,85 C371.5,86.8 365,88.5 360,90 C355,91.5 348.5,93.5 345,93.8 C341.5,94 337.9,93.1 338.8,91.2Z" fill="none" stroke="#ff0000" stroke-width="2.5" stroke-linejoin="round" stroke-dasharray="6 4"/>
<path d="M188,103 C188,102.4 193.2,101.9 196,102 C198.8,102.1 205,102.9 205,103.5 C205,104.1 198.8,105.6 196,105.5 C193.2,105.4 188,103.6 188,103Z" fill="#0000ff" stroke="#0000ff" stroke-width="2.5" stroke-linejoin="round"/>
<path d="M278,110 C278,109.6 281.8,109 284,109 C286.2,109 291,109.6 291,110 C291,110.4 286.2,111.5 284,111.5 C281.8,111.5 278,110.4 278,110Z" fill="#0000ff" stroke="#0000ff" stroke-width="2.5" stroke-linejoin="round"/>
<path d="M351,100 C352.7,98.9 355.2,97.3 360,97.5 C364.8,97.7 375.8,99.8 380,101 C384.2,102.2 380,103.5 385,105 C390,106.5 401.7,108.3 410,110 C418.3,111.7 427.1,112.9 435,115 C442.9,117.1 452.5,120.2 457.5,122.5 C462.5,124.8 465.8,127.1 465,128.8 C464.2,130.4 459.6,132.7 452.5,132.5 C445.4,132.3 431.2,129.1 422.5,127.5 C413.8,125.9 406.2,124.6 400,123 C393.8,121.4 390.8,119.8 385,118 C379.2,116.2 370,114 365,112.5 C360,111 357.5,110.4 355,109 C352.5,107.6 350.7,105.5 350,104 C349.3,102.5 349.3,101.1 351,100Z" fill="none" stroke="#0000ff" stroke-width="2.5" stroke-linejoin="round"/>
<path d="M184,150 C184.7,155 186.8,168.3 188,180 C189.2,191.7 190,206.7 191,220 C192,233.3 193,248.3 194,260 C195,271.7 195.7,280.8 197,290 C198.3,299.2 200.7,309.8 202,315 C203.3,320.2 204,320.8 205,321 C206,321.2 207.2,319.5 208,316 C208.8,312.5 209.3,306.8 210,300 C210.7,293.2 211.8,285.4 212,275 C212.2,264.6 211.5,250 211,237.5 C210.5,225 209.6,212.5 208.8,200 C207.9,187.5 207,175 206,162.5 C205,150 203.9,137.5 202.5,125 C201.1,112.5 199.2,100.3 197.5,87.5 C195.8,74.7 193.3,54.6 192.5,48" fill="none" stroke="#a020f0" stroke-width="2.5" stroke-linejoin="round" stroke-dasharray="6 4"/>
<path d="M381.5,48 C381.4,56.7 381.7,83 381,100 C380.3,117 378.9,133.3 377.5,150 C376.1,166.7 374.6,183.3 372.5,200 C370.4,216.7 367.5,237.5 365,250 C362.5,262.5 359.8,265.1 357.5,275 C355.2,284.9 353.1,297.3 351.4,309.6 C349.7,321.9 348.6,335.8 347.5,349 C346.4,362.2 345.1,376.9 344.5,388.7 C343.9,400.5 343.9,406.4 343.8,420 C343.6,433.6 343.5,458.3 343.8,470 C344,481.7 344.4,482.5 345,490 C345.6,497.5 346.2,506.7 347.5,515 C348.8,523.3 350.4,531.7 352.5,540 C354.6,548.3 357.1,557.5 360,565 C362.9,572.5 367.1,580.8 370,585 C372.9,589.2 374.7,590 377.5,590 C380.3,590 384.1,590 387,585 C389.9,580 392.8,569.6 395,560 C397.2,550.4 398.5,539.2 400,527.5 C401.5,515.8 402.3,509.6 403.8,490 C405.2,470.4 407.8,426.9 408.8,410 C409.8,393.1 409.5,398.9 409.8,388.7 C410.1,378.5 410.5,362.2 410.8,349 C411.1,335.8 411.4,322.8 411.7,309.6 C412,296.4 411.7,292.4 412.7,270 C413.7,247.6 416.1,201.2 417.5,175 C418.9,148.8 419.8,133.7 421,112.5 C422.2,91.3 424.3,58.8 425,48" fill="none" stroke="#a020f0" stroke-width="2.5" stroke-linejoin="round"/>
<path d="M184,155 C185.8,150.2 190.7,149.2 195,148.8 C199.3,148.3 204.2,149.8 210,152.5 C215.8,155.2 224.2,162.1 230,165 C235.8,167.9 239.2,169.8 245,170 C250.8,170.2 259.2,165.6 265,166 C270.8,166.4 275,169.3 280,172.5 C285,175.7 290.4,180.4 295,185 C299.6,189.6 305.4,195.8 307.5,200 C309.6,204.2 309.6,207.7 307.5,210 C305.4,212.3 299.6,213.8 295,213.8 C290.4,213.8 285.8,211.9 280,210 C274.2,208.1 266.2,204.2 260,202.5 C253.8,200.8 248.8,200 242.5,200 C236.2,200 228.3,202.9 222.5,202.5 C216.7,202.1 212.1,200 207.5,197.5 C202.9,195 198.9,190.8 195,187.5 C191.1,184.2 185.8,182.9 184,177.5 C182.2,172.1 182.2,159.8 184,155Z" fill="none" stroke="#000000" stroke-width="2.5" stroke-linejoin="round" stroke-dasharray="6 4"/>
<path d="M344,207 C344.3,205.2 348.5,204 352,204 C355.5,204 361.5,205.3 365,207 C368.5,208.7 371.8,211.7 373,214 C374.2,216.3 374.2,220 372,221 C369.8,222 363.7,221 360,220 C356.3,219 352.7,217.2 350,215 C347.3,212.8 343.7,208.8 344,207Z" fill="none" stroke="#000000" stroke-width="2.5" stroke-linejoin="round" stroke-dasharray="6 4"/>
<path d="M233.8,222.5 C235.2,220.6 238.1,217.5 242.5,215 C246.9,212.5 253.8,209.4 260,207.5 C266.2,205.6 274.4,204 280,203.8 C285.6,203.5 292.1,204.4 293.8,206.2 C295.4,208.1 293.1,212.3 290,215 C286.9,217.7 280.8,220 275,222.5 C269.2,225 260.8,228.5 255,230 C249.2,231.5 243.5,231.9 240,231.2 C236.5,230.6 234.8,227.7 233.8,226.2 C232.7,224.8 232.3,224.4 233.8,222.5Z" fill="none" stroke="#ff0000" stroke-width="2.5" stroke-linejoin="round" stroke-dasharray="6 4"/>
<path d="M203,200.6 C204.5,200.2 210.8,199.9 215,200.5 C219.2,201.1 223.5,202.8 228,204 C232.5,205.2 237.7,206.6 242,208 C246.3,209.4 250.8,210.9 254,212.7 C257.2,214.5 260.2,217.3 261,219 C261.8,220.7 261.2,222.5 259,223 C256.8,223.5 251.7,223.2 248,222 C244.3,220.8 241.3,218.2 237,216 C232.7,213.8 226.3,210.8 222,209 C217.7,207.2 213.7,206 211,205 C208.3,204 207.3,203.7 206,203 C204.7,202.3 201.5,201 203,200.6Z" fill="none" stroke="#0000ff" stroke-width="2.5" stroke-linejoin="round"/>
<path d="M184,212 C186.6,213.5 194.7,218.1 199.8,220.8 C204.9,223.5 209.8,225.7 214.7,228.2 C219.6,230.7 224.6,234 229.5,235.6 C234.4,237.2 239.4,237.4 244.3,237.8 C249.2,238.2 254.2,237.6 259.2,237.8 C264.1,238.1 269.1,238.6 274,239.3 C278.9,240.1 283.6,241.3 288.8,242.3 C294,243.3 297.3,244.3 305,245.2 C312.7,246.1 325.8,246.3 335,247.5 C344.2,248.7 351.3,250.4 360,252.5 C368.7,254.6 378.7,257.5 387,260 C395.3,262.5 402,265.8 410,267.5 C418,269.2 426.7,268.3 435,270 C443.3,271.7 449.6,274.2 460,277.5 C470.4,280.8 485,285.8 497.5,290 C510,294.2 524.6,298.7 535,302.5 C545.4,306.3 551.9,309.2 560,312.9 C568.1,316.6 575.7,320.7 583.5,324.6 C591.3,328.5 599.2,332.5 607,336.4 C614.8,340.3 622.7,344.9 630.5,348 C638.3,351.1 646.2,353.2 654,355.2 C661.8,357.2 669.6,358.3 677.4,359.9 C685.2,361.4 693.2,363.1 701,364.5 C708.8,365.9 716.4,366.9 724.4,368 C732.4,369.1 744.9,370.5 749,371" fill="none" stroke="#000000" stroke-width="2.5" stroke-linejoin="round"/>
<path d="M184,231 C186.2,231.5 193,232.6 196.9,234.1 C200.8,235.6 204,237.5 207.2,240 C210.4,242.5 214.1,246.3 216.1,249 C218.1,251.7 219.3,254.4 219.1,256.4 C218.9,258.4 217.4,260.2 214.7,260.8 C212,261.4 206.5,260.8 202.8,260.1 C199.1,259.4 195.5,258.1 192.4,256.4 C189.3,254.7 185.4,251.1 184,250" fill="none" stroke="#000000" stroke-width="2.5" stroke-linejoin="round"/>
<path d="M284.4,237.1 C284.9,236.1 286.6,235.8 288.8,236.3 C291,236.8 294.6,238.6 297.7,240 C300.8,241.4 306.3,243.3 307.5,245 C308.7,246.7 307.1,249.6 305,250 C302.9,250.4 298,248.8 294.8,247.5 C291.6,246.2 287.6,244 285.9,242.3 C284.2,240.6 283.9,238.1 284.4,237.1Z" fill="none" stroke="#0000ff" stroke-width="2.5" stroke-linejoin="round"/>
<path d="M487.5,67.5 C487.9,66.4 492.9,64.9 497.5,64.5 C502.1,64.1 509.6,64.1 515,65 C520.4,65.9 525.4,67.9 530,70 C534.6,72.1 538.8,74.8 542.5,77.5 C546.2,80.2 552.4,84.6 552,86.2 C551.6,87.9 544.5,88.1 540,87.5 C535.5,86.9 530,84.6 525,82.5 C520,80.4 515,76.9 510,75 C505,73.1 498.8,72.5 495,71.2 C491.2,70 487.1,68.6 487.5,67.5Z" fill="none" stroke="#0000ff" stroke-width="2.5" stroke-linejoin="round"/>
<path d="M432,61 L440,61" fill="none" stroke="#0000ff" stroke-width="3.2" stroke-linecap="round"/>
<path d="M383.3,147 C384.1,144.6 385.6,139.3 388.5,135 C391.4,130.7 396.6,124.5 400.6,121 C404.6,117.5 409.2,115.4 412.7,114.2 C416.1,113 419.6,113.1 421.3,114 C423,114.9 423.6,117.1 423,119.4 C422.4,121.7 420.8,124.5 417.9,128 C415,131.5 410.1,136.7 405.8,140.2 C401.5,143.7 395.6,147.2 392,148.8 C388.4,150.4 385.4,150 384,149.7 C382.6,149.4 382.6,149.4 383.3,147Z" fill="none" stroke="#ff0000" stroke-width="2.5" stroke-linejoin="round"/>
<path d="M400,200 C399.6,196.7 400.4,189.6 402.5,185 C404.6,180.4 407.5,176 412.5,172.5 C417.5,169 426.2,165 432.5,163.8 C438.8,162.5 445,163.5 450,165 C455,166.5 460,169.6 462.5,172.5 C465,175.4 466.2,178.8 465,182.5 C463.8,186.2 460,191.7 455,195 C450,198.3 441.2,200.4 435,202.5 C428.8,204.6 422.5,207.1 417.5,207.5 C412.5,207.9 407.9,206.2 405,205 C402.1,203.8 400.4,203.3 400,200Z" fill="none" stroke="#ff0000" stroke-width="2.5" stroke-linejoin="round" stroke-dasharray="6 4"/>
<path d="M396,200 C396.8,198.8 405.2,197.3 410,197.5 C414.8,197.7 420.4,199.3 425,201 C429.6,202.7 436,205.6 437.5,207.5 C439,209.4 436.9,212.1 434,212.5 C431.1,212.9 424.8,211.2 420,210 C415.2,208.8 409,206.7 405,205 C401,203.3 395.2,201.2 396,200Z" fill="none" stroke="#0000ff" stroke-width="2.5" stroke-linejoin="round"/>
<path d="M617,169 C612.9,164.9 599.5,165.1 592.5,163.3 C585.5,161.5 580.4,160 575.2,158 C570,156 564.2,153.1 561.3,151.1 C558.4,149.1 561.3,148 557.9,146 C554.5,144 546.4,141.2 540.6,139 C534.8,136.8 528.2,133.9 523.3,133 C518.4,132.1 512.5,132.8 511.1,133.8 C509.7,134.8 511.7,137 514.6,139 C517.5,141 524.2,144 528.5,146 C532.8,148 536.6,150 540.6,151.1 C544.6,152.2 552.8,152 552.7,152.5 C552.6,153 544.9,154 540,154 C535.1,154 529,152.9 523.3,152.5 C517.6,152.1 511.2,151.5 506,151.5 C500.8,151.5 492.1,151.5 492.1,152.3 C492.1,153.1 500.8,154.2 506,156.3 C511.2,158.4 516.1,162.1 523.3,165 C530.5,167.9 540.6,171 549.2,173.6 C557.9,176.2 566.6,178.6 575.2,180.6 C583.8,182.6 594,184.6 601,185.8 C608,187 614.3,190.8 617,188 C619.7,185.2 621.1,173.1 617,169Z" fill="none" stroke="#0000ff" stroke-width="2.5" stroke-linejoin="round"/>
<path d="M544,72 C544.4,68.8 547.9,62.3 552,58.6 C556.1,54.9 563.1,52.4 568.6,50 C574.1,47.6 578.9,45 585,44 C591.1,43 599.8,42.7 605,44 C610.2,45.3 614.8,48.9 616,52 C617.2,55.1 615.4,59.8 612,62.7 C608.6,65.6 601.7,67.5 595.8,69.5 C589.9,71.5 584.5,73.7 576.8,75 C569.1,76.3 555.1,78.1 549.6,77.6 C544.1,77.1 543.6,75.2 544,72Z" fill="none" stroke="#ff0000" stroke-width="2.5" stroke-linejoin="round" stroke-dasharray="6 4"/>
<path d="M516.3,166.7 C518.3,164.2 526.5,158.6 532,154.6 C537.5,150.6 543.5,146.5 549.2,142.5 C555,138.5 560.7,133.7 566.5,130.4 C572.3,127.1 578,124.2 583.8,122.6 C589.5,121 597.4,120.2 601,120.9 C604.6,121.6 605.5,124.8 605.5,127 C605.5,129.2 604.6,130.6 601,133.8 C597.4,137 589.5,142.5 583.8,146 C578,149.5 572.3,152.3 566.5,154.6 C560.7,156.9 555,158.1 549.2,159.8 C543.5,161.5 536.9,163.4 532,165 C527.1,166.6 522.4,169 519.8,169.3 C517.2,169.6 514.3,169.1 516.3,166.7Z" fill="none" stroke="#ff0000" stroke-width="2.5" stroke-linejoin="round" stroke-dasharray="6 4"/>
<path d="M465,211 C467.5,210 477.5,209.3 485,210 C492.5,210.7 501.7,213.3 510,215 C518.3,216.7 526.7,218.8 535,220 C543.3,221.2 551.3,221.2 560,222.5 C568.7,223.8 580.3,225.8 587,228 C593.7,230.2 594.8,233.7 600,235.6 C605.2,237.5 612.3,238.1 618.5,239.3 C624.7,240.5 630.8,240.8 637,243 C643.2,245.2 649.4,248.9 655.6,252.3 C661.8,255.7 669.5,260.9 674.2,263.4 C678.9,265.9 684,266.7 684,267.5 C684,268.3 678.9,268.4 674.2,268 C669.5,267.6 661.8,267.2 655.6,265.2 C649.4,263.2 643.2,259.1 637,256 C630.8,252.9 624.7,248.7 618.5,246.7 C612.3,244.7 605.2,244.5 600,243.9 C594.8,243.3 593.7,243.7 587,243 C580.3,242.3 568.7,241.3 560,240 C551.3,238.7 543.3,237 535,235 C526.7,233 518.3,230.3 510,228 C501.7,225.7 491.7,223 485,221 C478.3,219 473.3,217.7 470,216 C466.7,214.3 462.5,212 465,211Z" fill="none" stroke="#0000ff" stroke-width="2.5" stroke-linejoin="round"/>
<path d="M504,244.5 C503.6,242.2 505.7,235.5 509,232 C512.3,228.5 519.5,225.1 524,223.5 C528.5,221.9 534.5,220.8 536.3,222.2 C538.1,223.6 537,229.1 535,232 C533,234.9 527.9,237.3 524,239.6 C520.1,241.9 514.9,244.9 511.6,245.7 C508.3,246.5 504.4,246.8 504,244.5Z" fill="none" stroke="#ff0000" stroke-width="2.5" stroke-linejoin="round"/>
<path d="M562.5,230 C563.8,227.7 564.6,224.2 570,220 C575.4,215.8 586.7,209.2 595,205 C603.3,200.8 611.7,197.1 620,195 C628.3,192.9 637.5,192.5 645,192.5 C652.5,192.5 662.9,192.9 665,195 C667.1,197.1 661.7,201.7 657.5,205 C653.3,208.3 647.1,211.2 640,215 C632.9,218.8 623.3,224.2 615,227.5 C606.7,230.8 597.5,233.3 590,235 C582.5,236.7 574.6,237.7 570,237.5 C565.4,237.3 563.8,235.2 562.5,234 C561.2,232.8 561.2,232.3 562.5,230Z" fill="none" stroke="#ff0000" stroke-width="2.5" stroke-linejoin="round"/>
<path d="M749,284 C745.8,283.3 736.1,281.3 729.8,280 C723.5,278.7 717.5,277.3 711.3,276.4 C705.1,275.5 698.9,275.1 692.7,274.5 C686.5,273.9 680.4,273.5 674.2,272.6 C668,271.7 661.8,270.5 655.6,269 C649.4,267.5 643.2,265.6 637,263.4 C630.8,261.2 624.7,258.8 618.5,256 C612.3,253.2 604.6,249 600,246.7 C595.4,244.4 596.4,244.4 590.7,242 C585,239.6 574.2,234.8 566,232.1 C557.8,229.4 549.5,227.7 541.2,226 C533,224.3 524.7,223.2 516.5,222.2 C508.3,221.2 500.1,220.5 491.8,219.8 C483.6,219.1 474,217.8 467,217.8 C460,217.8 453.9,218.7 449.8,219.8 C445.7,221 442.4,221.8 442.4,224.7 C442.4,227.6 445.7,233 449.8,237.1 C453.9,241.2 460,245.3 467,249.4 C474,253.5 483.6,258.1 491.8,261.8 C500.1,265.5 508.3,268.4 516.5,271.7 C524.7,275 533,277.9 541.2,281.6 C549.5,285.3 557.8,290.3 566,294 C574.2,297.7 585,301 590.7,303.8 C596.4,306.6 595.4,308.1 600,311 C604.6,313.9 612.3,318.6 618.5,320.9 C624.7,323.2 630.8,323.7 637,324.6 C643.2,325.5 649.4,325.3 655.6,326.4 C661.8,327.5 668,329.4 674.2,331 C680.4,332.6 686.5,334 692.7,335.7 C698.9,337.4 705.1,339.3 711.3,341.3 C717.5,343.3 723.5,345.7 729.8,347.7 C736.1,349.7 745.8,352.5 749,353.5" fill="none" stroke="#000000" stroke-width="2.5" stroke-linejoin="round" stroke-dasharray="6 4"/>
<path d="M749,294 C745.8,293.4 736.1,291.1 729.8,290.3 C723.5,289.5 717.5,289.3 711.3,289.3 C705.1,289.3 698.9,290.5 692.7,290.3 C686.5,290.1 680.4,289.5 674.2,288.4 C668,287.3 661.8,285.8 655.6,283.8 C649.4,281.8 643.2,279.2 637,276.4 C630.8,273.6 624.7,270.2 618.5,267.1 C612.3,264 606.7,261.6 600,257.8 C593.3,254 586,247.1 578.3,244.5 C570.6,241.9 560.6,242 553.6,242 C546.6,242 540,242.8 536.3,244.5 C532.6,246.2 531.4,248.6 531.4,251.9 C531.4,255.2 532.6,260.2 536.3,264.3 C540,268.4 546.6,272.5 553.6,276.6 C560.6,280.7 570.6,284.7 578.3,289 C586,293.3 593.3,299.2 600,302.3 C606.7,305.4 612.3,306.3 618.5,307.9 C624.7,309.4 630.8,310.8 637,311.6 C643.2,312.4 649.4,311.6 655.6,312.5 C661.8,313.4 668,315.5 674.2,317.2 C680.4,318.9 686.5,320.5 692.7,322.7 C698.9,324.9 705.1,327.6 711.3,330.1 C717.5,332.6 723.5,335.3 729.8,337.5 C736.1,339.7 745.8,342.5 749,343.5" fill="none" stroke="#000000" stroke-width="2.5" stroke-linejoin="round" stroke-dasharray="6 4"/>
<path d="M749,306 C746.4,306.3 736.5,307 733.5,307.9 C730.5,308.8 730.7,309.8 730.7,311.6 C730.7,313.5 731.8,316.5 733.5,319 C735.2,321.5 738.3,324.6 740.9,326.4 C743.5,328.2 747.6,329.4 749,330" fill="none" stroke="#000000" stroke-width="2.5" stroke-linejoin="round" stroke-dasharray="6 4"/>
<path d="M749,210 C748.4,210.1 749.6,210.3 745.5,210.5 C741.4,210.7 731.1,210.1 724.4,211 C717.6,211.9 710.5,215.7 705,216 C699.5,216.3 696.1,214.3 691.5,213 C686.9,211.7 683.6,209.7 677.4,208 C671.1,206.3 663.8,204.9 654,203 C644.2,201.1 627.7,198.1 618.7,196.4 C609.7,194.7 604.7,193.6 600,193 C595.3,192.4 593.2,192.4 590.5,193 C587.8,193.6 583.9,194.3 583.5,196.4 C583.1,198.5 585.1,203.1 588.2,205.8 C591.3,208.6 597.2,210.4 602.3,212.9 C607.4,215.4 612.1,218.2 618.7,221.1 C625.4,224 634.4,227.8 642.2,230.5 C650,233.2 657.9,235.3 665.7,237.5 C673.5,239.7 681.4,241.8 689.2,243.4 C697,245 706.1,245.6 712.7,247 C719.4,248.4 723.1,249.8 729.1,251.6 C735.1,253.4 745.7,256.9 749,258" fill="none" stroke="#000000" stroke-width="2.5" stroke-linejoin="round"/>
<path d="M749,233 C748,233.4 744.1,234.4 742.8,235.6 C741.5,236.8 740,238.3 741,240 C742,241.7 747.7,245 749,246" fill="none" stroke="#000000" stroke-width="2.5" stroke-linejoin="round"/>
<path d="M697.5,250 C697.7,247.2 701.2,241.7 705,237.5 C708.8,233.3 714.2,227.9 720,225 C725.8,222.1 735.2,220.8 740,220 C744.8,219.2 747.5,218 749,220 C750.5,222 750.7,229.1 749,232 C747.3,234.9 743.8,234.7 739,237.4 C734.2,240.2 726.4,245.7 720.5,248.5 C714.6,251.3 707.6,253.8 703.8,254.1 C700,254.3 697.3,252.8 697.5,250Z" fill="none" stroke="#ff0000" stroke-width="2.5" stroke-linejoin="round" stroke-dasharray="6 4"/>
<path d="M749,263.4 C746.4,263.1 738.2,262.7 733.5,261.5 C728.8,260.3 724.8,257.2 720.5,256 C716.2,254.8 709,254.2 707.5,254 C706,253.8 708.2,253.2 711.3,254.5 C714.4,255.8 721.7,258.8 726,261.5 C730.3,264.2 733.4,268 737.2,270.8 C741,273.6 747,277.2 749,278.5" fill="none" stroke="#0000ff" stroke-width="2.5" stroke-linejoin="round"/>
<path d="M592.5,180 C591,184.2 591.1,190.4 590,200 C588.9,209.6 586.8,225.8 586,237.5 C585.2,249.2 585,256.2 585,270 C585,283.8 585.3,303.3 586,320 C586.7,336.7 588.2,353.3 589,370 C589.8,386.7 590,403.3 591,420 C592,436.7 593.3,458.3 595,470 C596.7,481.7 599.3,484.6 601,490 C602.7,495.4 603.5,499.2 605,502.5 C606.5,505.8 608.3,510 610,510 C611.7,510 613.5,505.8 615,502.5 C616.5,499.2 618.2,495.4 619,490 C619.8,484.6 619.2,481.7 620,470 C620.8,458.3 623.6,436.7 624,420 C624.4,403.3 623.2,386.7 622.5,370 C621.8,353.3 620.8,336.7 620,320 C619.2,303.3 618.3,283.8 617.5,270 C616.7,256.2 616.2,249.2 615,237.5 C613.8,225.8 611.7,209.6 610,200 C608.3,190.4 606.8,184.2 605,180 C603.2,175.8 601.1,175 599,175 C596.9,175 594,175.8 592.5,180Z" fill="none" stroke="#a020f0" stroke-width="2.5" stroke-linejoin="round" stroke-dasharray="6 4"/>
<path d="M749,387.5 C744.9,387 732.4,385.4 724.4,384.5 C716.4,383.6 708.8,383.2 701,382.2 C693.2,381.2 685.2,380.8 677.4,378.6 C669.6,376.4 661.8,372.7 654,369.2 C646.2,365.7 638.3,361.4 630.5,357.5 C622.7,353.6 614.8,349.7 607,345.8 C599.2,341.9 591.3,337.4 583.5,334 C575.7,330.6 568.1,328.2 560,325.5 C551.9,322.8 543.3,320.5 535,317.5 C526.7,314.5 518.3,310.4 510,307.5 C501.7,304.6 493.3,302.1 485,300 C476.7,297.9 467.8,296.4 460,295 C452.2,293.6 445.4,292.7 438.5,291.8 C431.6,290.9 425.3,290.8 418.7,289.8 C412.1,288.8 404.8,287.8 398.9,285.8 C392.9,283.8 389.5,280.6 383,278 C376.5,275.4 368,272.2 360,270 C352,267.8 344.2,266 335,265 C325.8,264 312.7,264.1 305,263.8 C297.3,263.5 293,262.9 288.8,263 C284.6,263.1 282,263.9 280,264.5 C278,265.1 276.8,265.7 277,266.7 C277.2,267.7 278.9,269.2 281.4,270.5 C283.9,271.8 287.9,272.8 291.8,274.2 C295.7,275.6 300.3,275.7 305,278.6 C309.7,281.5 314,288 319.8,291.8 C325.6,295.6 333,298.6 339.6,301.6 C346.2,304.6 352.7,307 359.3,309.6 C365.9,312.2 372.5,315.5 379.1,317.5 C385.7,319.5 393.6,320.6 398.9,321.4 C404.2,322.2 405.9,322.1 410.8,322.4 C415.8,322.7 420.4,322 428.6,323.4 C436.8,324.8 450.6,327.8 460,331 C469.4,334.2 476.7,339.3 485,342.5 C493.3,345.7 501.7,346.7 510,350 C518.3,353.3 526.7,359.1 535,362.5 C543.3,365.9 551.9,368.1 560,370.4 C568.1,372.7 575.7,373.8 583.5,376.3 C591.3,378.9 599.2,383 607,385.7 C614.8,388.4 622.7,391.7 630.5,392.7 C638.3,393.7 646.2,391.6 654,391.6 C661.8,391.6 669.6,392.1 677.4,392.7 C685.2,393.3 693.2,393.4 701,395 C708.8,396.6 716.4,399.7 724.4,402 C732.4,404.3 744.9,407.8 749,409" fill="none" stroke="#000000" stroke-width="2.5" stroke-linejoin="round"/>
<path d="M184,265.5 C186.6,266.6 194.7,270.1 199.8,271.9 C204.9,273.7 209.8,275.2 214.7,276.3 C219.6,277.4 224.6,277.9 229.5,278.3 C234.4,278.7 239.4,278.2 244.3,278.9 C249.2,279.6 254.2,280.9 259.2,282.3 C264.1,283.7 269.1,285.6 274,287.5 C278.9,289.4 284.5,291.7 288.8,293.4 C293.1,295.1 294.8,295.7 300,297.7 C305.2,299.7 313.2,303 319.8,305.6 C326.4,308.2 333,310.5 339.6,313.5 C346.2,316.5 352.7,320.4 359.3,323.4 C365.9,326.4 372.5,329 379.1,331.3 C385.7,333.6 392.3,335.6 398.9,337.2 C405.5,338.8 412.1,339.9 418.7,341.2 C425.3,342.5 431.6,343.7 438.5,345.2 C445.4,346.7 452.2,347.9 460,350 C467.8,352.1 476.7,355 485,357.5 C493.3,360 501.7,362.1 510,365 C518.3,367.9 526.7,371.6 535,375 C543.3,378.4 551.9,382.8 560,385.7 C568.1,388.6 575.7,390.3 583.5,392.7 C591.3,395.1 599.2,397.2 607,399.8 C614.8,402.4 622.7,405.6 630.5,408 C638.3,410.4 646.2,412.5 654,413.9 C661.8,415.3 669.6,415.4 677.4,416.2 C685.2,417 693.2,417.6 701,418.6 C708.8,419.7 716.4,421.1 724.4,422.5 C732.4,423.9 744.9,426.2 749,427" fill="none" stroke="#000000" stroke-width="2.5" stroke-linejoin="round"/>
<path d="M184,57 C185,57.8 188.8,59.8 190,62 C191.2,64.2 191.8,67.3 191.5,70 C191.2,72.7 189.2,76.2 188,78 C186.8,79.8 184.7,80.5 184,81" fill="none" stroke="#000000" stroke-width="2.5" stroke-linejoin="round" stroke-dasharray="6 4"/>
<path d="M184,263.8 C186.6,264.8 194.5,267.8 199.8,269.7 C205.1,271.6 210.1,273.1 215.9,275 C221.7,276.9 229.2,279.1 234.4,281.2 C239.6,283.3 242.7,285.3 246.8,287.4 C250.9,289.4 255.1,291.4 259.2,293.5 C263.3,295.6 267.2,297.8 271.5,299.7 C275.8,301.6 280.8,303 285,304.7 C289.2,306.4 294,308.4 297,310 C300,311.6 302.2,312.5 303,314 C303.8,315.5 303.3,317.8 302,319 C300.7,320.2 297.8,320.4 295,321 C292.2,321.6 287.9,322.7 285,322.6 C282.1,322.6 281,321.8 277.7,320.7 C274.4,319.6 269.4,317.4 265.3,315.8 C261.2,314.2 257.1,312.7 253,310.8 C248.9,308.9 243.7,306.3 240.6,304.7 C237.5,303.1 237.5,302 234.4,301 C231.3,300 226.1,299.3 222,298.5 C217.9,297.7 213.4,297.4 209.7,296 C206,294.6 202.1,291.5 200,290 C197.9,288.5 199.7,288.7 197,287 C194.3,285.3 186.2,281.2 184,280" fill="none" stroke="#0000ff" stroke-width="2.5" stroke-linejoin="round"/>
<path d="M216,290.5 C216,289.9 219.8,289 222,289 C224.2,289 229.5,289.9 229.5,290.5 C229.5,291.1 224.2,292.5 222,292.5 C219.8,292.5 216,291.1 216,290.5Z" fill="#0000ff" stroke="#0000ff" stroke-width="2.5" stroke-linejoin="round"/>
<path d="M184,286 C186.2,286.8 193.1,289.1 197.4,291 C201.7,292.9 205.6,295.8 209.7,297.2 C213.8,298.6 217.9,299.1 222,299.7 C226.1,300.3 230.3,300.4 234.4,301 C238.5,301.6 242.7,302.6 246.8,303.4 C250.9,304.2 255.1,305.3 259.2,305.9 C263.3,306.5 267.2,306.7 271.5,307.1 C275.8,307.5 280.2,307 285,308.4 C289.8,309.8 294.2,312.7 300,315.5 C305.8,318.3 313.2,322.4 319.8,325.4 C326.4,328.4 333,330.3 339.6,333.3 C346.2,336.3 352.7,339.9 359.3,343.2 C365.9,346.5 372.5,349.7 379.1,353 C385.7,356.3 392.3,360 398.9,363 C405.5,366 412.1,369 418.7,371 C425.3,373 431.6,373.5 438.5,374.8 C445.4,376.1 452.2,376.3 460,378.8 C467.8,381.3 477.5,386.1 485,390 C492.5,393.9 500.2,398.3 505,402.5 C509.8,406.7 512.9,411.2 513.8,415 C514.6,418.8 513.5,422.5 510,425 C506.5,427.5 498.8,428.5 492.5,430 C486.2,431.5 480,434.2 472.5,433.8 C465,433.3 455,429.8 447.5,427.5 C440,425.2 433.8,420.8 427.5,420 C421.2,419.2 417.1,421.7 410,422.5 C402.9,423.3 393.3,426.4 385,425 C376.7,423.6 367.6,417.4 360,414 C352.4,410.6 346.3,407.5 339.6,404.5 C332.9,401.5 326.6,398.6 320,396 C313.4,393.4 308.1,392.4 300,388.7 C291.9,385 278.3,376.8 271.5,373.9 C264.7,371 263.3,372.2 259.2,371.4 C255.1,370.6 250.9,369.6 246.8,369 C242.7,368.4 238.5,368.3 234.4,367.7 C230.3,367.1 226.1,366 222,365.2 C217.9,364.4 213.8,363.8 209.7,362.8 C205.6,361.8 201.7,360.5 197.4,359 C193.1,357.5 186.2,354.8 184,354" fill="none" stroke="#000000" stroke-width="2.5" stroke-linejoin="round" stroke-dasharray="6 4"/>
<path d="M184,294.8 C186.2,295.6 193.1,297.9 197.4,299.7 C201.7,301.5 205.6,304.2 209.7,305.9 C213.8,307.5 217.9,308.6 222,309.6 C226.1,310.6 230.3,311.5 234.4,312.1 C238.5,312.7 242.7,312.9 246.8,313.3 C250.9,313.7 255.1,314.2 259.2,314.6 C263.3,315 267.2,315.3 271.5,315.8 C275.8,316.3 280.2,316 285,317.6 C289.8,319.2 294.2,322.8 300,325.4 C305.8,328 313.2,330.3 319.8,333.3 C326.4,336.3 333,339.9 339.6,343.2 C346.2,346.5 352.7,349.4 359.3,353 C365.9,356.6 373.5,361.4 379.1,365 C384.7,368.6 389.4,370.9 393,374.8 C396.6,378.8 399.9,384.7 400.9,388.7 C401.9,392.7 400.9,395.6 398.9,398.6 C396.9,401.6 393,405 389,406.5 C385,408 381.5,408.6 375,407.5 C368.5,406.4 359.2,402.6 350,400 C340.8,397.4 328.3,394.9 320,392 C311.7,389.1 305.8,386.1 300,382.7 C294.2,379.3 289.8,373.9 285,371.4 C280.2,368.9 275.8,368.9 271.5,367.7 C267.2,366.5 263.3,365.2 259.2,364 C255.1,362.8 250.9,361.3 246.8,360.3 C242.7,359.3 238.5,358.6 234.4,357.8 C230.3,357 226.1,356.1 222,355.3 C217.9,354.5 213.8,353.9 209.7,352.9 C205.6,351.9 201.7,350.4 197.4,349.2 C193.1,348 186.2,346.1 184,345.5" fill="none" stroke="#000000" stroke-width="2.5" stroke-linejoin="round" stroke-dasharray="6 4"/>
<path d="M184,308.4 C186.2,309.2 193.1,311.4 197.4,313.3 C201.7,315.2 205.6,317.2 209.7,319.5 C213.8,321.8 218.7,324.6 222,326.9 C225.3,329.2 228.7,331.4 229.5,333.1 C230.3,334.8 228.2,336.2 227,337 C225.8,337.8 224.9,337.6 222,338 C219.1,338.4 213.8,339.7 209.7,339.3 C205.6,338.9 201.7,336.8 197.4,335.6 C193.1,334.4 186.2,332.5 184,331.9" fill="none" stroke="#000000" stroke-width="2.5" stroke-linejoin="round" stroke-dasharray="6 4"/>
<path d="M243,338 C242.8,336.4 243.9,333.3 245.6,331.9 C247.3,330.5 249.7,330.2 253,329.4 C256.3,328.6 260,327.2 265.3,327 C270.6,326.8 279.2,326.8 285,328.2 C290.8,329.6 294.2,332.8 300,335.3 C305.8,337.8 313.2,340.2 319.8,343.2 C326.4,346.1 333.7,349.4 339.6,353 C345.5,356.6 351.4,361.4 355.4,365 C359.3,368.6 362,371.9 363.3,374.8 C364.6,377.8 365.6,381.2 363.3,382.7 C361,384.2 355,383.7 349.4,383.7 C343.8,383.7 337.9,383.5 329.7,382.7 C321.5,381.9 307.4,381.9 300,378.8 C292.6,375.7 289.8,367.7 285,364 C280.2,360.3 275.8,359.1 271.5,356.6 C267.2,354.1 263.3,351.7 259.2,349.2 C255.1,346.7 249.5,343.6 246.8,341.7 C244.1,339.8 243.2,339.6 243,338Z" fill="none" stroke="#000000" stroke-width="2.5" stroke-linejoin="round" stroke-dasharray="6 4"/>
<path d="M184,372.5 C187.5,373.3 197.3,375.2 205,377.5 C212.7,379.8 227.1,383.9 230,386 C232.9,388.1 227.9,390.2 222.5,390 C217.1,389.8 203.9,386.2 197.5,385 C191.1,383.8 186.2,382.9 184,382.5" fill="none" stroke="#0000ff" stroke-width="2.5" stroke-linejoin="round"/>
<path d="M246,392.5 L259,392.5" fill="none" stroke="#0000ff" stroke-width="3.2" stroke-linecap="round"/>
<path d="M266,399 L270,399" fill="none" stroke="#0000ff" stroke-width="3.2" stroke-linecap="round"/>
<path d="M184,387.5 C188.3,388.1 201.5,389.6 210,391 C218.5,392.4 228,394.8 235,396 C242,397.2 246.2,396.8 252,398 C257.8,399.2 262.7,400.1 270,403 C277.3,405.9 288.5,411.4 296,415.6 C303.5,419.8 309.1,423.2 315,428 C320.9,432.8 330,440.9 331.7,444.6 C333.4,448.3 330.9,448.7 325,450 C319.1,451.3 308.2,452.9 296,452.4 C283.8,451.9 264.4,449.2 251.7,446.8 C239,444.4 231.3,441 220,438 C208.7,435 190,430.5 184,429" fill="none" stroke="#000000" stroke-width="2.5" stroke-linejoin="round"/>
<path d="M184,389 C187.8,390.5 199.4,394.7 207,398 C214.6,401.3 224.4,405.7 229.5,409 C234.6,412.3 238.1,415.8 237.3,418 C236.6,420.2 230.1,421.8 225,422 C219.9,422.2 213.8,421 207,419 C200.2,417 187.8,411.5 184,410" fill="none" stroke="#000000" stroke-width="2.5" stroke-linejoin="round"/>
<path d="M197.5,416 C199.2,415.2 207.5,413.9 215,415 C222.5,416.1 237.9,420.4 242.5,422.5 C247.1,424.6 245.8,427.1 242.5,427.5 C239.2,427.9 228.8,426.2 222.5,425 C216.2,423.8 209.2,421.5 205,420 C200.8,418.5 195.8,416.8 197.5,416Z" fill="none" stroke="#0000ff" stroke-width="2.5" stroke-linejoin="round"/>
<path d="M245,429 L250,429" fill="none" stroke="#0000ff" stroke-width="3.2" stroke-linecap="round"/>
<path d="M298.8,428.8 C301.2,428.6 309,432.3 315,435 C321,437.7 330,442.9 335,445 C340,447.1 345,446.9 345,447.5 C345,448.1 340,449.6 335,448.8 C330,447.9 320.8,444.6 315,442.5 C309.2,440.4 302.7,438.3 300,436 C297.3,433.7 296.2,428.9 298.8,428.8Z" fill="none" stroke="#0000ff" stroke-width="2.5" stroke-linejoin="round"/>
<path d="M310,413 C310.9,410.4 313.8,405.4 318,402 C322.2,398.6 329.7,394.9 335,392.5 C340.3,390.1 345.6,388.7 350,387.7 C354.4,386.7 359.1,386.2 361.3,386.7 C363.5,387.2 364.3,389 363.3,390.6 C362.3,392.2 359.3,394 355.4,396.6 C351.4,399.2 344.7,403.8 339.6,406.5 C334.5,409.2 329.5,411.2 325,413 C320.5,414.8 315,417.5 312.5,417.5 C310,417.5 309.1,415.6 310,413Z" fill="none" stroke="#ff0000" stroke-width="2.5" stroke-linejoin="round"/>
<path d="M412.5,317.5 C416,317 427.1,317.5 435,318.8 C442.9,320 453.8,323.5 460,325 C466.2,326.5 471.2,326.2 472.5,327.5 C473.8,328.8 471.7,332.1 467.5,332.5 C463.3,332.9 455,331.5 447.5,330 C440,328.5 428.1,325.1 422.5,323.8 C416.9,322.4 415.7,323 414,322 C412.3,321 409,318 412.5,317.5Z" fill="none" stroke="#0000ff" stroke-width="2.5" stroke-linejoin="round"/>
<path d="M470,337.5 C471.7,336.4 483.3,335.4 490,336 C496.7,336.6 504.6,339.5 510,341 C515.4,342.5 520.8,343.5 522.5,345 C524.2,346.5 524.2,349.6 520,350 C515.8,350.4 504.2,348.8 497.5,347.5 C490.8,346.2 484.6,344.2 480,342.5 C475.4,340.8 468.3,338.6 470,337.5Z" fill="none" stroke="#0000ff" stroke-width="2.5" stroke-linejoin="round"/>
<path d="M555,345 C556.7,344 563.3,341.2 570,341.2 C576.7,341.2 588.3,343.1 595,345 C601.7,346.9 608.3,350.4 610,352.5 C611.7,354.6 609.6,357.5 605,357.5 C600.4,357.5 590,354.2 582.5,352.5 C575,350.8 564.6,348.2 560,347 C555.4,345.8 553.3,346 555,345Z" fill="none" stroke="#0000ff" stroke-width="2.5" stroke-linejoin="round"/>
<path d="M561,369 L578,369" fill="none" stroke="#0000ff" stroke-width="3.2" stroke-linecap="round"/>
<path d="M449,260 C449.8,259 459,258.3 465,259 C471,259.7 478.3,262.2 485,264 C491.7,265.8 500.8,268.4 505,270 C509.2,271.6 511.3,272.8 510,273.5 C508.7,274.2 502,274.6 497,274 C492,273.4 486.2,271.5 480,270 C473.8,268.5 465.2,266.7 460,265 C454.8,263.3 448.2,261 449,260Z" fill="none" stroke="#0000ff" stroke-width="2.5" stroke-linejoin="round"/>
<path d="M517.5,278.8 C520,278.4 527.9,278.5 535,279 C542.1,279.5 551.3,281.5 560,282 C568.7,282.5 580.3,282 587,282 C593.7,282 594.8,281.4 600,282 C605.2,282.6 612.3,283.1 618.5,285.6 C624.7,288.1 630.8,294 637,296.8 C643.2,299.6 651.9,301.2 655.6,302.3 C659.3,303.4 660.5,303.2 659,303.5 C657.5,303.8 653.1,304.1 646.4,304.2 C639.6,304.3 626.2,304.9 618.5,304.2 C610.8,303.5 605.2,302 600,300 C594.8,298 590.8,294.1 587,292 C583.2,289.9 582,288.5 577.5,287.5 C573,286.5 567.1,286.8 560,286.2 C552.9,285.7 541.7,284.9 535,284 C528.3,283.1 522.9,281.9 520,281 C517.1,280.1 515,279.1 517.5,278.8Z" fill="none" stroke="#0000ff" stroke-width="2.5" stroke-linejoin="round"/>
<path d="M452.5,392.5 C452.5,391.7 454.6,390 460,390 C465.4,390 476.7,391.2 485,392.5 C493.3,393.8 501.7,395.8 510,397.5 C518.3,399.2 526.7,400.8 535,402.5 C543.3,404.2 551.3,406.2 560,407.5 C568.7,408.8 577,407.9 587,410 C597,412.1 610.3,416.7 620,420 C629.7,423.3 639.2,427.5 645,430 C650.8,432.5 654.2,433.5 655,435 C655.8,436.5 655.8,439.4 650,439 C644.2,438.6 630.5,435.2 620,432.5 C609.5,429.8 597,425.9 587,423 C577,420.1 568.7,417.2 560,415 C551.3,412.8 543.3,411.9 535,410 C526.7,408.1 518.3,405.6 510,403.8 C501.7,401.9 493.3,400.2 485,398.8 C476.7,397.3 465.4,396 460,395 C454.6,394 452.5,393.3 452.5,392.5Z" fill="none" stroke="#0000ff" stroke-width="2.5" stroke-linejoin="round"/>
<path d="M749,497 C744.2,495.8 729,491.6 720,490 C711,488.4 703.3,488.3 695,487.5 C686.7,486.7 678.3,485.8 670,485 C661.7,484.2 653.3,483.8 645,482.5 C636.7,481.2 629.7,479.8 620,477.5 C610.3,475.2 597,470.6 587,468.8 C577,466.9 568.7,467.3 560,466.2 C551.3,465.2 543.3,463.8 535,462.5 C526.7,461.2 518.3,460 510,458.8 C501.7,457.5 493.3,456 485,455 C476.7,454 467.1,452.9 460,452.5 C452.9,452.1 444.2,451.2 442.5,452.5 C440.8,453.8 449.6,457.9 450,460 C450.4,462.1 443.3,463.8 445,465 C446.7,466.2 453.3,466.7 460,467.5 C466.7,468.3 476.7,469.2 485,470 C493.3,470.8 501.7,471.2 510,472.5 C518.3,473.8 526.7,475.8 535,477.5 C543.3,479.2 551.3,480.8 560,482.5 C568.7,484.2 581.2,486.2 587,487.5 C592.8,488.8 589.5,489.2 595,490 C600.5,490.8 611.7,492.1 620,492.5 C628.3,492.9 636.7,492.2 645,492.5 C653.3,492.8 661.7,493.2 670,494 C678.3,494.8 686.7,496.1 695,497.5 C703.3,498.9 711,500.5 720,502.5 C729,504.5 744.2,508.3 749,509.5" fill="none" stroke="#0000ff" stroke-width="2.5" stroke-linejoin="round"/>
<path d="M426,447.5 L437,447.5" fill="none" stroke="#0000ff" stroke-width="3.2" stroke-linecap="round"/>
<path d="M422,459 L428,459" fill="none" stroke="#0000ff" stroke-width="3.2" stroke-linecap="round"/>
<path d="M588.8,373.8 C590,372.5 601.5,371 607.5,372.5 C613.5,374 618.8,379.2 625,382.5 C631.2,385.8 642.9,390.4 645,392.5 C647.1,394.6 641.7,395.4 637.5,395 C633.3,394.6 626.2,392.5 620,390 C613.8,387.5 605.2,382.7 600,380 C594.8,377.3 587.5,375 588.8,373.8Z" fill="none" stroke="#0000ff" stroke-width="2.5" stroke-linejoin="round"/>
<path d="M646,398.8 L667,398.8" fill="none" stroke="#0000ff" stroke-width="3.2" stroke-linecap="round"/>
<path d="M673,405 L687,405" fill="none" stroke="#0000ff" stroke-width="3.2" stroke-linecap="round"/>
<path d="M691,411 L707,411" fill="none" stroke="#0000ff" stroke-width="3.2" stroke-linecap="round"/>
<path d="M715,417.5 L720,417.5" fill="none" stroke="#0000ff" stroke-width="3.2" stroke-linecap="round"/>
<path d="M739,374 C740.5,372.8 747.3,371.8 749,373 C750.7,374.2 750.5,379.8 749,381 C747.5,382.2 741.7,381.2 740,380 C738.3,378.8 737.5,375.2 739,374Z" fill="none" stroke="#0000ff" stroke-width="2.5" stroke-linejoin="round"/>
<path d="M725,490 L749,497.5" fill="none" stroke="#0000ff" stroke-width="3.2" stroke-linecap="round"/>
<path d="M202,496 L215,496" fill="none" stroke="#0000ff" stroke-width="3.2" stroke-linecap="round"/>
<path d="M184,499 C185.8,499.5 192,500.7 195,502 C198,503.3 202,505.8 202,507 C202,508.2 198,509 195,509 C192,509 185.8,507.3 184,507" fill="none" stroke="#0000ff" stroke-width="2.5" stroke-linejoin="round"/>
<path d="M200,537.5 C201.2,536.7 205.4,536.4 210,537.5 C214.6,538.6 222.9,541.9 227.5,544 C232.1,546.1 237.1,548.8 237.5,550 C237.9,551.2 234.2,551.4 230,551 C225.8,550.6 217.1,548.9 212.5,547.5 C207.9,546.1 204.6,544.2 202.5,542.5 C200.4,540.8 198.8,538.3 200,537.5Z" fill="none" stroke="#0000ff" stroke-width="2.5" stroke-linejoin="round"/>
<path d="M257.5,537.5 C259,535.4 262.9,531.9 267.5,530 C272.1,528.1 279.2,525.6 285,526 C290.8,526.4 296.7,528.9 302.5,532.5 C308.3,536.1 315,542.1 320,547.5 C325,552.9 329.6,559.2 332.5,565 C335.4,570.8 337.5,577.7 337.5,582.5 C337.5,587.3 335.4,591.9 332.5,594 C329.6,596.1 324.6,596.1 320,595 C315.4,593.9 310.8,591.7 305,587.5 C299.2,583.3 291.2,575.8 285,570 C278.8,564.2 271.9,557.1 267.5,552.5 C263.1,547.9 260.4,545 258.8,542.5 C257.1,540 256,539.6 257.5,537.5Z" fill="none" stroke="#000000" stroke-width="2.5" stroke-linejoin="round"/>
<path d="M271,585 C271,581.4 271.8,577.1 275,572.5 C278.2,567.9 284.2,562.5 290,557.5 C295.8,552.5 303.3,546.7 310,542.5 C316.7,538.3 324.6,535 330,532.5 C335.4,530 340,527.1 342.5,527.5 C345,527.9 345.4,530.8 345,535 C344.6,539.2 342.1,546.7 340,552.5 C337.9,558.3 336.7,564.6 332.5,570 C328.3,575.4 320.8,580.8 315,585 C309.2,589.2 302.5,592.7 297.5,595 C292.5,597.3 288.8,599.2 285,599 C281.2,598.8 277.3,596.3 275,594 C272.7,591.7 271,588.6 271,585Z" fill="none" stroke="#ff0000" stroke-width="2.5" stroke-linejoin="round"/>
<path d="M310,544 C310.4,542.8 315.8,541.5 320,542.5 C324.2,543.5 330.4,547.5 335,550 C339.6,552.5 344.2,555.4 347.5,557.5 C350.8,559.6 355.4,561.7 355,562.5 C354.6,563.3 349.2,563.3 345,562.5 C340.8,561.7 334.6,559.6 330,557.5 C325.4,555.4 320.8,552.2 317.5,550 C314.2,547.8 309.6,545.2 310,544Z" fill="none" stroke="#0000ff" stroke-width="2.5" stroke-linejoin="round"/>
<path d="M281,526 C281.8,524.3 285.2,519.8 287.5,517.5 C289.8,515.2 292.8,513.1 295,512.5 C297.2,511.9 300.6,512.9 301,514 C301.4,515.1 299.3,517.6 297.5,519 C295.7,520.4 292.5,521.1 290,522.5 C287.5,523.9 284,526.9 282.5,527.5 C281,528.1 280.2,527.7 281,526Z" fill="none" stroke="#ff0000" stroke-width="2.5" stroke-linejoin="round" stroke-dasharray="6 4"/>
<path d="M309,625 C308.6,622.5 308.2,618.3 310,615 C311.8,611.7 315.8,607.7 320,605 C324.2,602.3 330,600.5 335,599 C340,597.5 345.8,596.2 350,596 C354.2,595.8 359.2,596 360,597.5 C360.8,599 358.3,602.1 355,605 C351.7,607.9 345,611.7 340,615 C335,618.3 329.6,622.5 325,625 C320.4,627.5 315.2,630 312.5,630 C309.8,630 309.4,627.5 309,625Z" fill="none" stroke="#ff0000" stroke-width="2.5" stroke-linejoin="round" stroke-dasharray="6 4"/>
<path d="M375,597.5 C374.6,595.8 380.5,591.6 382.5,590 C384.5,588.4 384.9,589.5 387,588 C389.1,586.5 391.2,582.5 395,581 C398.8,579.5 406.7,578.8 410,579 C413.3,579.2 415,580.7 415,582.5 C415,584.3 412.9,587.5 410,590 C407.1,592.5 401.7,595.8 397.5,597.5 C393.3,599.2 388.8,600 385,600 C381.2,600 375.4,599.2 375,597.5Z" fill="none" stroke="#ff0000" stroke-width="2.5" stroke-linejoin="round" stroke-dasharray="6 4"/>
<path d="M267.5,642.5 C269.8,642.5 280.4,644.9 282.5,646 C284.6,647.1 282.3,649 280,649 C277.7,649 270.8,647.1 268.8,646 C266.7,644.9 265.2,642.5 267.5,642.5Z" fill="none" stroke="#0000ff" stroke-width="2.5" stroke-linejoin="round"/>
<path d="M416,507.5 C417.7,506.9 425.6,506.9 430,507.5 C434.4,508.1 438.5,509.9 442.5,511 C446.5,512.1 453.3,513.2 453.8,514 C454.2,514.8 449,515.8 445,516 C441,516.2 434.2,515.8 430,515 C425.8,514.2 422.3,512.2 420,511 C417.7,509.8 414.3,508.1 416,507.5Z" fill="none" stroke="#0000ff" stroke-width="2.5" stroke-linejoin="round"/>
<path d="M515,520 C515.8,518.7 520.8,516 525,516 C529.2,516 535,518.5 540,520 C545,521.5 553.3,523.5 555,525 C556.7,526.5 553.8,528.6 550,529 C546.2,529.4 537.5,528.3 532.5,527.5 C527.5,526.7 522.9,525.2 520,524 C517.1,522.8 514.2,521.3 515,520Z" fill="none" stroke="#0000ff" stroke-width="2.5" stroke-linejoin="round"/>
<path d="M571,561 C570.2,560 577.7,559.8 582.5,560 C587.3,560.2 594.8,561.2 600,562.5 C605.2,563.8 612.9,566.2 613.8,567.5 C614.6,568.8 609.4,570.2 605,570 C600.6,569.8 593.2,567.5 587.5,566 C581.8,564.5 571.8,562 571,561Z" fill="none" stroke="#0000ff" stroke-width="2.5" stroke-linejoin="round"/>
<path d="M465,727 C465.4,718.8 466.5,692 467.5,677.5 C468.5,663 469.6,651.7 471,640 C472.4,628.3 474.3,615.8 476,607.5 C477.7,599.2 479.3,593.6 481,590 C482.7,586.4 484.3,586 486,586 C487.7,586 489.5,586.4 491,590 C492.5,593.6 493.5,599.2 495,607.5 C496.5,615.8 498.5,628.3 500,640 C501.5,651.7 503,663 504,677.5 C505,692 505.7,718.8 506,727" fill="none" stroke="#a020f0" stroke-width="2.5" stroke-linejoin="round" stroke-dasharray="6 4"/>
<path d="M690,537.5 L694,537.5" fill="none" stroke="#0000ff" stroke-width="3.2" stroke-linecap="round"/>
<g transform="translate(380 58)"><path d="M-4.2,-0.5 C-4.8,-5.5 -1.5,-8.6 3.2,-9.3 M4.2,0.5 C4.8,5.5 1.5,8.6 -3.2,9.3" fill="none" stroke="#000" stroke-width="3.6" stroke-linecap="round"/><circle r="5.2" fill="#000"/><path d="M-4.2,-0.5 C-4.8,-5.5 -1.5,-8.6 3.2,-9.3 M4.2,0.5 C4.8,5.5 1.5,8.6 -3.2,9.3" fill="none" stroke="#d40000" stroke-width="2.2" stroke-linecap="round"/><circle r="4.6" fill="#d40000"/>
<text x="0" y="2.6" font-size="7.2" fill="#fff" text-anchor="middle">G</text></g>
<g transform="translate(375 101.2)"><path d="M-4.2,-0.5 C-4.8,-5.5 -1.5,-8.6 3.2,-9.3 M4.2,0.5 C4.8,5.5 1.5,8.6 -3.2,9.3" fill="none" stroke="#000" stroke-width="3.6" stroke-linecap="round"/><circle r="5.2" fill="#000"/><path d="M-4.2,-0.5 C-4.8,-5.5 -1.5,-8.6 3.2,-9.3 M4.2,0.5 C4.8,5.5 1.5,8.6 -3.2,9.3" fill="none" stroke="#d40000" stroke-width="2.2" stroke-linecap="round"/><circle r="4.6" fill="#d40000"/>
<text x="0" y="2.6" font-size="7.2" fill="#fff" text-anchor="middle">D</text></g>
<g transform="translate(362.5 172)"><path d="M-4.2,-0.5 C-4.8,-5.5 -1.5,-8.6 3.2,-9.3 M4.2,0.5 C4.8,5.5 1.5,8.6 -3.2,9.3" fill="none" stroke="#000" stroke-width="3.6" stroke-linecap="round"/><circle r="5.2" fill="#000"/><path d="M-4.2,-0.5 C-4.8,-5.5 -1.5,-8.6 3.2,-9.3 M4.2,0.5 C4.8,5.5 1.5,8.6 -3.2,9.3" fill="none" stroke="#d40000" stroke-width="2.2" stroke-linecap="round"/><circle r="4.6" fill="#d40000"/>
<text x="0" y="2.6" font-size="6.2" fill="#fff" text-anchor="middle">22</text></g>
<g transform="translate(360 263.8)"><path d="M-4.2,-0.5 C-4.8,-5.5 -1.5,-8.6 3.2,-9.3 M4.2,0.5 C4.8,5.5 1.5,8.6 -3.2,9.3" fill="none" stroke="#000" stroke-width="3.6" stroke-linecap="round"/><circle r="5.2" fill="#000"/><path d="M-4.2,-0.5 C-4.8,-5.5 -1.5,-8.6 3.2,-9.3 M4.2,0.5 C4.8,5.5 1.5,8.6 -3.2,9.3" fill="none" stroke="#d40000" stroke-width="2.2" stroke-linecap="round"/><circle r="4.6" fill="#d40000"/>
<text x="0" y="2.6" font-size="6.2" fill="#fff" text-anchor="middle">23</text></g>
<g transform="translate(414.5 81)"><path d="M-4.2,-0.5 C-4.8,-5.5 -1.5,-8.6 3.2,-9.3 M4.2,0.5 C4.8,5.5 1.5,8.6 -3.2,9.3" fill="none" stroke="#000" stroke-width="3.6" stroke-linecap="round"/><circle r="5.2" fill="#000"/><path d="M-4.2,-0.5 C-4.8,-5.5 -1.5,-8.6 3.2,-9.3 M4.2,0.5 C4.8,5.5 1.5,8.6 -3.2,9.3" fill="none" stroke="#d40000" stroke-width="2.2" stroke-linecap="round"/><circle r="4.6" fill="#d40000"/>
<text x="0" y="2.6" font-size="7.2" fill="#fff" text-anchor="middle">T</text></g>
<g transform="translate(596 64)"><path d="M-4.2,-0.5 C-4.8,-5.5 -1.5,-8.6 3.2,-9.3 M4.2,0.5 C4.8,5.5 1.5,8.6 -3.2,9.3" fill="none" stroke="#000" stroke-width="3.6" stroke-linecap="round"/><circle r="5.2" fill="#000"/><path d="M-4.2,-0.5 C-4.8,-5.5 -1.5,-8.6 3.2,-9.3 M4.2,0.5 C4.8,5.5 1.5,8.6 -3.2,9.3" fill="none" stroke="#d40000" stroke-width="2.2" stroke-linecap="round"/><circle r="4.6" fill="#d40000"/>
<text x="0" y="2.6" font-size="7.2" fill="#fff" text-anchor="middle">K</text></g>
<g transform="translate(572.5 100)"><path d="M-4.2,-0.5 C-4.8,-5.5 -1.5,-8.6 3.2,-9.3 M4.2,0.5 C4.8,5.5 1.5,8.6 -3.2,9.3" fill="none" stroke="#000" stroke-width="3.6" stroke-linecap="round"/><circle r="5.2" fill="#000"/><path d="M-4.2,-0.5 C-4.8,-5.5 -1.5,-8.6 3.2,-9.3 M4.2,0.5 C4.8,5.5 1.5,8.6 -3.2,9.3" fill="none" stroke="#d40000" stroke-width="2.2" stroke-linecap="round"/><circle r="4.6" fill="#d40000"/>
<text x="0" y="2.6" font-size="7.2" fill="#fff" text-anchor="middle">O</text></g>
<g transform="translate(587.5 110)"><path d="M-4.2,-0.5 C-4.8,-5.5 -1.5,-8.6 3.2,-9.3 M4.2,0.5 C4.8,5.5 1.5,8.6 -3.2,9.3" fill="none" stroke="#000" stroke-width="3.6" stroke-linecap="round"/><circle r="5.2" fill="#000"/><path d="M-4.2,-0.5 C-4.8,-5.5 -1.5,-8.6 3.2,-9.3 M4.2,0.5 C4.8,5.5 1.5,8.6 -3.2,9.3" fill="none" stroke="#d40000" stroke-width="2.2" stroke-linecap="round"/><circle r="4.6" fill="#d40000"/>
<text x="0" y="2.6" font-size="7.2" fill="#fff" text-anchor="middle">M</text></g>
<g transform="translate(576 116)"><path d="M-4.2,-0.5 C-4.8,-5.5 -1.5,-8.6 3.2,-9.3 M4.2,0.5 C4.8,5.5 1.5,8.6 -3.2,9.3" fill="none" stroke="#000" stroke-width="3.6" stroke-linecap="round"/><circle r="5.2" fill="#000"/><path d="M-4.2,-0.5 C-4.8,-5.5 -1.5,-8.6 3.2,-9.3 M4.2,0.5 C4.8,5.5 1.5,8.6 -3.2,9.3" fill="none" stroke="#d40000" stroke-width="2.2" stroke-linecap="round"/><circle r="4.6" fill="#d40000"/>
<text x="0" y="2.6" font-size="7.2" fill="#fff" text-anchor="middle">N</text></g>
<g transform="translate(582.5 171)"><path d="M-4.2,-0.5 C-4.8,-5.5 -1.5,-8.6 3.2,-9.3 M4.2,0.5 C4.8,5.5 1.5,8.6 -3.2,9.3" fill="none" stroke="#000" stroke-width="3.6" stroke-linecap="round"/><circle r="5.2" fill="#000"/><path d="M-4.2,-0.5 C-4.8,-5.5 -1.5,-8.6 3.2,-9.3 M4.2,0.5 C4.8,5.5 1.5,8.6 -3.2,9.3" fill="none" stroke="#d40000" stroke-width="2.2" stroke-linecap="round"/><circle r="4.6" fill="#d40000"/>
<text x="0" y="2.6" font-size="7.2" fill="#fff" text-anchor="middle">P</text></g>
<g transform="translate(597.5 235)"><path d="M-4.2,-0.5 C-4.8,-5.5 -1.5,-8.6 3.2,-9.3 M4.2,0.5 C4.8,5.5 1.5,8.6 -3.2,9.3" fill="none" stroke="#000" stroke-width="3.6" stroke-linecap="round"/><circle r="5.2" fill="#000"/><path d="M-4.2,-0.5 C-4.8,-5.5 -1.5,-8.6 3.2,-9.3 M4.2,0.5 C4.8,5.5 1.5,8.6 -3.2,9.3" fill="none" stroke="#d40000" stroke-width="2.2" stroke-linecap="round"/><circle r="4.6" fill="#d40000"/>
<text x="0" y="2.6" font-size="7.2" fill="#fff" text-anchor="middle">R</text></g>
<g transform="translate(619.5 236)"><path d="M-4.2,-0.5 C-4.8,-5.5 -1.5,-8.6 3.2,-9.3 M4.2,0.5 C4.8,5.5 1.5,8.6 -3.2,9.3" fill="none" stroke="#000" stroke-width="3.6" stroke-linecap="round"/><circle r="5.2" fill="#000"/><path d="M-4.2,-0.5 C-4.8,-5.5 -1.5,-8.6 3.2,-9.3 M4.2,0.5 C4.8,5.5 1.5,8.6 -3.2,9.3" fill="none" stroke="#d40000" stroke-width="2.2" stroke-linecap="round"/><circle r="4.6" fill="#d40000"/>
<text x="0" y="2.6" font-size="7.2" fill="#fff" text-anchor="middle">N</text></g>
<g transform="translate(684.5 264.5)"><path d="M-4.2,-0.5 C-4.8,-5.5 -1.5,-8.6 3.2,-9.3 M4.2,0.5 C4.8,5.5 1.5,8.6 -3.2,9.3" fill="none" stroke="#000" stroke-width="3.6" stroke-linecap="round"/><circle r="5.2" fill="#000"/><path d="M-4.2,-0.5 C-4.8,-5.5 -1.5,-8.6 3.2,-9.3 M4.2,0.5 C4.8,5.5 1.5,8.6 -3.2,9.3" fill="none" stroke="#d40000" stroke-width="2.2" stroke-linecap="round"/><circle r="4.6" fill="#d40000"/>
<text x="0" y="2.6" font-size="7.2" fill="#fff" text-anchor="middle">O</text></g>
<g transform="translate(377.5 285)"><path d="M-4.2,-0.5 C-4.8,-5.5 -1.5,-8.6 3.2,-9.3 M4.2,0.5 C4.8,5.5 1.5,8.6 -3.2,9.3" fill="none" stroke="#000" stroke-width="3.6" stroke-linecap="round"/><circle r="5.2" fill="#000"/><path d="M-4.2,-0.5 C-4.8,-5.5 -1.5,-8.6 3.2,-9.3 M4.2,0.5 C4.8,5.5 1.5,8.6 -3.2,9.3" fill="none" stroke="#d40000" stroke-width="2.2" stroke-linecap="round"/><circle r="4.6" fill="#d40000"/>
<text x="0" y="2.6" font-size="7.2" fill="#fff" text-anchor="middle">K</text></g>
<g transform="translate(368 324)"><path d="M-4.2,-0.5 C-4.8,-5.5 -1.5,-8.6 3.2,-9.3 M4.2,0.5 C4.8,5.5 1.5,8.6 -3.2,9.3" fill="none" stroke="#000" stroke-width="3.6" stroke-linecap="round"/><circle r="5.2" fill="#000"/><path d="M-4.2,-0.5 C-4.8,-5.5 -1.5,-8.6 3.2,-9.3 M4.2,0.5 C4.8,5.5 1.5,8.6 -3.2,9.3" fill="none" stroke="#d40000" stroke-width="2.2" stroke-linecap="round"/><circle r="4.6" fill="#d40000"/>
<text x="0" y="2.6" font-size="6.2" fill="#fff" text-anchor="middle">26</text></g>
<g transform="translate(398.8 302.5)"><path d="M-4.2,-0.5 C-4.8,-5.5 -1.5,-8.6 3.2,-9.3 M4.2,0.5 C4.8,5.5 1.5,8.6 -3.2,9.3" fill="none" stroke="#000" stroke-width="3.6" stroke-linecap="round"/><circle r="5.2" fill="#000"/><path d="M-4.2,-0.5 C-4.8,-5.5 -1.5,-8.6 3.2,-9.3 M4.2,0.5 C4.8,5.5 1.5,8.6 -3.2,9.3" fill="none" stroke="#d40000" stroke-width="2.2" stroke-linecap="round"/><circle r="4.6" fill="#d40000"/>
<text x="0" y="2.6" font-size="6.2" fill="#fff" text-anchor="middle">25</text></g>
<g transform="translate(422 330)"><path d="M-4.2,-0.5 C-4.8,-5.5 -1.5,-8.6 3.2,-9.3 M4.2,0.5 C4.8,5.5 1.5,8.6 -3.2,9.3" fill="none" stroke="#000" stroke-width="3.6" stroke-linecap="round"/><circle r="5.2" fill="#000"/><path d="M-4.2,-0.5 C-4.8,-5.5 -1.5,-8.6 3.2,-9.3 M4.2,0.5 C4.8,5.5 1.5,8.6 -3.2,9.3" fill="none" stroke="#d40000" stroke-width="2.2" stroke-linecap="round"/><circle r="4.6" fill="#d40000"/>
<text x="0" y="2.6" font-size="7.2" fill="#fff" text-anchor="middle">S</text></g>
<g transform="translate(368.8 406)"><path d="M-4.2,-0.5 C-4.8,-5.5 -1.5,-8.6 3.2,-9.3 M4.2,0.5 C4.8,5.5 1.5,8.6 -3.2,9.3" fill="none" stroke="#000" stroke-width="3.6" stroke-linecap="round"/><circle r="5.2" fill="#000"/><path d="M-4.2,-0.5 C-4.8,-5.5 -1.5,-8.6 3.2,-9.3 M4.2,0.5 C4.8,5.5 1.5,8.6 -3.2,9.3" fill="none" stroke="#d40000" stroke-width="2.2" stroke-linecap="round"/><circle r="4.6" fill="#d40000"/>
<text x="0" y="2.6" font-size="7.2" fill="#fff" text-anchor="middle">D</text></g>
<g transform="translate(343.8 435)"><path d="M-4.2,-0.5 C-4.8,-5.5 -1.5,-8.6 3.2,-9.3 M4.2,0.5 C4.8,5.5 1.5,8.6 -3.2,9.3" fill="none" stroke="#000" stroke-width="3.6" stroke-linecap="round"/><circle r="5.2" fill="#000"/><path d="M-4.2,-0.5 C-4.8,-5.5 -1.5,-8.6 3.2,-9.3 M4.2,0.5 C4.8,5.5 1.5,8.6 -3.2,9.3" fill="none" stroke="#d40000" stroke-width="2.2" stroke-linecap="round"/><circle r="4.6" fill="#d40000"/>
<text x="0" y="2.6" font-size="6.2" fill="#fff" text-anchor="middle">29</text></g>
<g transform="translate(376 451)"><path d="M-4.2,-0.5 C-4.8,-5.5 -1.5,-8.6 3.2,-9.3 M4.2,0.5 C4.8,5.5 1.5,8.6 -3.2,9.3" fill="none" stroke="#000" stroke-width="3.6" stroke-linecap="round"/><circle r="5.2" fill="#000"/><path d="M-4.2,-0.5 C-4.8,-5.5 -1.5,-8.6 3.2,-9.3 M4.2,0.5 C4.8,5.5 1.5,8.6 -3.2,9.3" fill="none" stroke="#d40000" stroke-width="2.2" stroke-linecap="round"/><circle r="4.6" fill="#d40000"/>
<text x="0" y="2.6" font-size="7.2" fill="#fff" text-anchor="middle">H</text></g>
<g transform="translate(607.5 374)"><path d="M-4.2,-0.5 C-4.8,-5.5 -1.5,-8.6 3.2,-9.3 M4.2,0.5 C4.8,5.5 1.5,8.6 -3.2,9.3" fill="none" stroke="#000" stroke-width="3.6" stroke-linecap="round"/><circle r="5.2" fill="#000"/><path d="M-4.2,-0.5 C-4.8,-5.5 -1.5,-8.6 3.2,-9.3 M4.2,0.5 C4.8,5.5 1.5,8.6 -3.2,9.3" fill="none" stroke="#d40000" stroke-width="2.2" stroke-linecap="round"/><circle r="4.6" fill="#d40000"/>
<text x="0" y="2.6" font-size="7.2" fill="#fff" text-anchor="middle">S</text></g>
<g transform="translate(616 377)"><path d="M-4.2,-0.5 C-4.8,-5.5 -1.5,-8.6 3.2,-9.3 M4.2,0.5 C4.8,5.5 1.5,8.6 -3.2,9.3" fill="none" stroke="#000" stroke-width="3.6" stroke-linecap="round"/><circle r="5.2" fill="#000"/><path d="M-4.2,-0.5 C-4.8,-5.5 -1.5,-8.6 3.2,-9.3 M4.2,0.5 C4.8,5.5 1.5,8.6 -3.2,9.3" fill="none" stroke="#d40000" stroke-width="2.2" stroke-linecap="round"/><circle r="4.6" fill="#d40000"/>
<text x="0" y="2.6" font-size="7.2" fill="#fff" text-anchor="middle">P</text></g>
<g transform="translate(668 434)"><path d="M-4.2,-0.5 C-4.8,-5.5 -1.5,-8.6 3.2,-9.3 M4.2,0.5 C4.8,5.5 1.5,8.6 -3.2,9.3" fill="none" stroke="#000" stroke-width="3.6" stroke-linecap="round"/><circle r="5.2" fill="#000"/><path d="M-4.2,-0.5 C-4.8,-5.5 -1.5,-8.6 3.2,-9.3 M4.2,0.5 C4.8,5.5 1.5,8.6 -3.2,9.3" fill="none" stroke="#d40000" stroke-width="2.2" stroke-linecap="round"/><circle r="4.6" fill="#d40000"/>
<text x="0" y="2.6" font-size="7.2" fill="#fff" text-anchor="middle">R</text></g>
<g transform="translate(369 501)"><path d="M-4.2,-0.5 C-4.8,-5.5 -1.5,-8.6 3.2,-9.3 M4.2,0.5 C4.8,5.5 1.5,8.6 -3.2,9.3" fill="none" stroke="#000" stroke-width="3.6" stroke-linecap="round"/><circle r="5.2" fill="#000"/><path d="M-4.2,-0.5 C-4.8,-5.5 -1.5,-8.6 3.2,-9.3 M4.2,0.5 C4.8,5.5 1.5,8.6 -3.2,9.3" fill="none" stroke="#d40000" stroke-width="2.2" stroke-linecap="round"/><circle r="4.6" fill="#d40000"/>
<text x="0" y="2.6" font-size="7.2" fill="#fff" text-anchor="middle">K</text></g>
</g>
<line x1="185.2" y1="555.8" x2="352.5" y2="555.8" stroke="#000" stroke-width="2.2"/>
<line x1="492.5" y1="555.8" x2="746.9" y2="555.8" stroke="#000" stroke-width="2.2"/>
<text x="357" y="563.3" font-size="19.4" fill="#000">Begin Forecast</text>
<rect x="616.2" y="49.8" width="130.7" height="146.4" fill="#fff" stroke="#000" stroke-width="1.3"/>
<line x1="619.8" y1="67.3" x2="688" y2="67.3" stroke="#0000ff" stroke-width="2.2"/>
<text x="700.9" y="72.6" font-size="15.6">Kelvin</text>
<line x1="619.8" y1="93.1" x2="688" y2="93.1" stroke="#ff0000" stroke-width="2.2"/>
<text x="700.9" y="98.4" font-size="15.6">ER</text>
<line x1="619.8" y1="118.9" x2="688" y2="118.9" stroke="#000" stroke-width="2.2"/>
<text x="700.9" y="124.2" font-size="15.6">MJO</text>
<line x1="619.8" y1="144.7" x2="688" y2="144.7" stroke="#a020f0" stroke-width="2.2"/>
<text x="700.9" y="150" font-size="15.6">Low</text>
<text x="619.5" y="174.5" font-size="17">Contours at</text>
<text x="619.5" y="192.3" font-size="17">3 x10^6 m2 s-1</text>
<rect x="185.2" y="49.8" width="561.7" height="675.1" fill="none" stroke="#000" stroke-width="2.2"/>
<path d="M167.2,49.8 H185.2 M746.9,49.8 H764.9 M167.2,134.2 H185.2 M746.9,134.2 H764.9 M167.2,218.6 H185.2 M746.9,218.6 H764.9 M167.2,303 H185.2 M746.9,303 H764.9 M167.2,387.4 H185.2 M746.9,387.4 H764.9 M167.2,471.7 H185.2 M746.9,471.7 H764.9 M167.2,556.1 H185.2 M746.9,556.1 H764.9 M167.2,640.5 H185.2 M746.9,640.5 H764.9 M167.2,724.9 H185.2 M746.9,724.9 H764.9 M176.2,92 H185.2 M746.9,92 H755.9 M176.2,176.4 H185.2 M746.9,176.4 H755.9 M176.2,260.8 H185.2 M746.9,260.8 H755.9 M176.2,345.2 H185.2 M746.9,345.2 H755.9 M176.2,429.5 H185.2 M746.9,429.5 H755.9 M176.2,513.9 H185.2 M746.9,513.9 H755.9 M176.2,598.3 H185.2 M746.9,598.3 H755.9 M176.2,682.7 H185.2 M746.9,682.7 H755.9 M185.2,32.3 V49.8 M185.2,724.9 V742.4 M278.8,32.3 V49.8 M278.8,724.9 V742.4 M372.4,32.3 V49.8 M372.4,724.9 V742.4 M466.1,32.3 V49.8 M466.1,724.9 V742.4 M559.7,32.3 V49.8 M559.7,724.9 V742.4 M653.3,32.3 V49.8 M653.3,724.9 V742.4 M746.9,32.3 V49.8 M746.9,724.9 V742.4 M232,40.8 V49.8 M232,724.9 V733.9 M325.6,40.8 V49.8 M325.6,724.9 V733.9 M419.2,40.8 V49.8 M419.2,724.9 V733.9 M512.9,40.8 V49.8 M512.9,724.9 V733.9 M606.5,40.8 V49.8 M606.5,724.9 V733.9 M700.1,40.8 V49.8 M700.1,724.9 V733.9" stroke="#000" stroke-width="2.2" fill="none"/>
<text transform="translate(147.5 59) scale(0.966 1)" x="0" y="0" font-size="31.5" text-anchor="end">3 Sep</text>
<text transform="translate(147.5 143.4) scale(0.966 1)" x="0" y="0" font-size="31.5" text-anchor="end">17 Sep</text>
<text transform="translate(147.5 229.5) scale(0.966 1)" x="0" y="0" font-size="31.5" text-anchor="end">1 Oct</text>
<text transform="translate(147.5 313.9) scale(0.966 1)" x="0" y="0" font-size="31.5" text-anchor="end">15 Oct</text>
<text transform="translate(147.5 398.2) scale(0.966 1)" x="0" y="0" font-size="31.5" text-anchor="end">29 Oct</text>
<text transform="translate(147.5 482.6) scale(0.966 1)" x="0" y="0" font-size="31.5" text-anchor="end">12 Nov</text>
<text transform="translate(147.5 567) scale(0.966 1)" x="0" y="0" font-size="31.5" text-anchor="end">26 Nov</text>
<text transform="translate(147.5 651.4) scale(0.966 1)" x="0" y="0" font-size="31.5" text-anchor="end">10 Dec</text>
<text transform="translate(147.5 735.8) scale(0.966 1)" x="0" y="0" font-size="31.5" text-anchor="end">24 Dec</text>
<text transform="translate(185.2 786.1) scale(0.97 1)" x="0" y="0" font-size="31" text-anchor="middle">0</text>
<text transform="translate(278.8 786.1) scale(0.97 1)" x="0" y="0" font-size="31" text-anchor="middle">60E</text>
<text transform="translate(372.4 786.1) scale(0.97 1)" x="0" y="0" font-size="31" text-anchor="middle">120E</text>
<text transform="translate(466.1 786.1) scale(0.97 1)" x="0" y="0" font-size="31" text-anchor="middle">180</text>
<text transform="translate(559.7 786.1) scale(0.97 1)" x="0" y="0" font-size="31" text-anchor="middle">120W</text>
<text transform="translate(653.3 786.1) scale(0.97 1)" x="0" y="0" font-size="31" text-anchor="middle">60W</text>
<text transform="translate(746.9 786.1) scale(0.97 1)" x="0" y="0" font-size="31" text-anchor="middle">0</text>
<text x="184" y="28.9" font-size="33" textLength="371" lengthAdjust="spacingAndGlyphs">CHI200 with CFS forecasts</text>
<text x="644.5" y="28.8" font-size="33" textLength="107.5" lengthAdjust="spacingAndGlyphs">5S - 5N</text>
<rect x="139.8" y="793.3" width="41.7" height="13.4" fill="#003c30"/>
<rect x="181.5" y="793.3" width="41.7" height="13.4" fill="#01665e"/>
<rect x="223.2" y="793.3" width="41.7" height="13.4" fill="#35978f"/>
<rect x="264.9" y="793.3" width="41.7" height="13.4" fill="#80cdc1"/>
<rect x="306.6" y="793.3" width="41.7" height="13.4" fill="#c7eae5"/>
<rect x="348.3" y="793.3" width="41.7" height="13.4" fill="#f5f5f5"/>
<rect x="390.1" y="793.3" width="41.7" height="13.4" fill="#f6e8c3"/>
<rect x="431.8" y="793.3" width="41.7" height="13.4" fill="#dfc27d"/>
<rect x="473.5" y="793.3" width="41.7" height="13.4" fill="#bf812d"/>
<rect x="515.2" y="793.3" width="41.7" height="13.4" fill="#8c510a"/>
<rect x="556.9" y="793.3" width="41.7" height="13.4" fill="#543005"/>
<path d="M181.5,793.3 V806.7 M223.2,793.3 V806.7 M264.9,793.3 V806.7 M306.6,793.3 V806.7 M348.3,793.3 V806.7 M390.1,793.3 V806.7 M431.8,793.3 V806.7 M473.5,793.3 V806.7 M515.2,793.3 V806.7 M556.9,793.3 V806.7" stroke="#000" stroke-width="1.3" fill="none"/>
<rect x="139.8" y="793.3" width="458.8" height="13.4" fill="none" stroke="#000" stroke-width="1.3"/>
<text x="181.5" y="825.2" font-size="18.6" text-anchor="middle">-18</text>
<text x="223.2" y="825.2" font-size="18.6" text-anchor="middle">-14</text>
<text x="264.9" y="825.2" font-size="18.6" text-anchor="middle">-10</text>
<text x="306.6" y="825.2" font-size="18.6" text-anchor="middle">-6</text>
<text x="348.3" y="825.2" font-size="18.6" text-anchor="middle">-2</text>
<text x="390.1" y="825.2" font-size="18.6" text-anchor="middle">2</text>
<text x="431.8" y="825.2" font-size="18.6" text-anchor="middle">6</text>
<text x="473.5" y="825.2" font-size="18.6" text-anchor="middle">10</text>
<text x="515.2" y="825.2" font-size="18.6" text-anchor="middle">14</text>
<text x="556.9" y="825.2" font-size="18.6" text-anchor="middle">18</text>
<text x="615.5" y="821.6" font-size="30.5">x10^6 m2 s-1</text>
<g clip-path="url(#lc)">
<rect x="10" y="776" width="101" height="102" fill="url(#sun)"/>
<path d="M10,797 L21.3,796.5 C28,797 38,799 45.8,801.3 C52,802.5 57,803 59.4,803.3 C61,804 63,806 64.8,806 C68,805.5 70,804.5 73,804 C80,802.5 84,801.5 86.6,801.3 C92,800.8 97,800.6 111,800.5 V878 H10 Z" fill="#3c49a6"/>
<path d="M10,805 C16,803 22,802.5 30,803.5 C40,805 50,806.5 60,806 C66,806 70,807.5 74,808.5 C82,808 90,806 100,806 L111,806 V878 H10 Z" fill="#6f77b8"/>
<path d="M56,812 C65,810 75,808.5 85,808 C95,807.5 103,806.5 111,806 V878 H56 Z" fill="#6c76d2"/>
<path d="M14,816 C25,812.5 40,812.5 55,814 C62,815 64,818 60,821 C52,824 38,825.5 25,825.5 C18,825 14,823 14,820 Z" fill="#aab1e2"/>
<path d="M10,826 C20,826 30,826.5 40,826 C48,825.5 55,822 62,820 C70,817 85,812 111,808 V878 H10 Z" fill="#6a73cf"/>
<path d="M10,826 C18,825.5 26,826 34,828 C38,830 30,834 24,836 L10,840 Z" fill="#4a58c6"/>
<path d="M10,840.5 L13.2,840 L21.3,838 L28.8,833.2 L34.2,838 L38.3,836 L44.4,838.7 L56.7,826.4 L63.5,833.9 L68.9,838 L73,836 L77.1,830.5 L82.5,839.3 L87.9,831.2 L97.5,827.1 L108.3,818.3 L111,816 V878 H10 Z" fill="#0b1070" stroke="#e01818" stroke-width="1.1" stroke-linejoin="round"/>
</g>
<text x="61.2" y="859.7" font-size="18.5" font-weight="bold" fill="#fff" text-anchor="middle" letter-spacing="2.3">NCICS</text>
<text x="4" y="897.4" font-size="15.5">ncics.org/mjo</text>
<text x="333" y="897.2" font-size="11">Mon 2017-11-27 1124 UTC</text>
<text x="804.7" y="898.3" font-size="15.5" text-anchor="end">Carl Schreck (cjschrec@ncsu.edu)</text>
</svg></body></html>
